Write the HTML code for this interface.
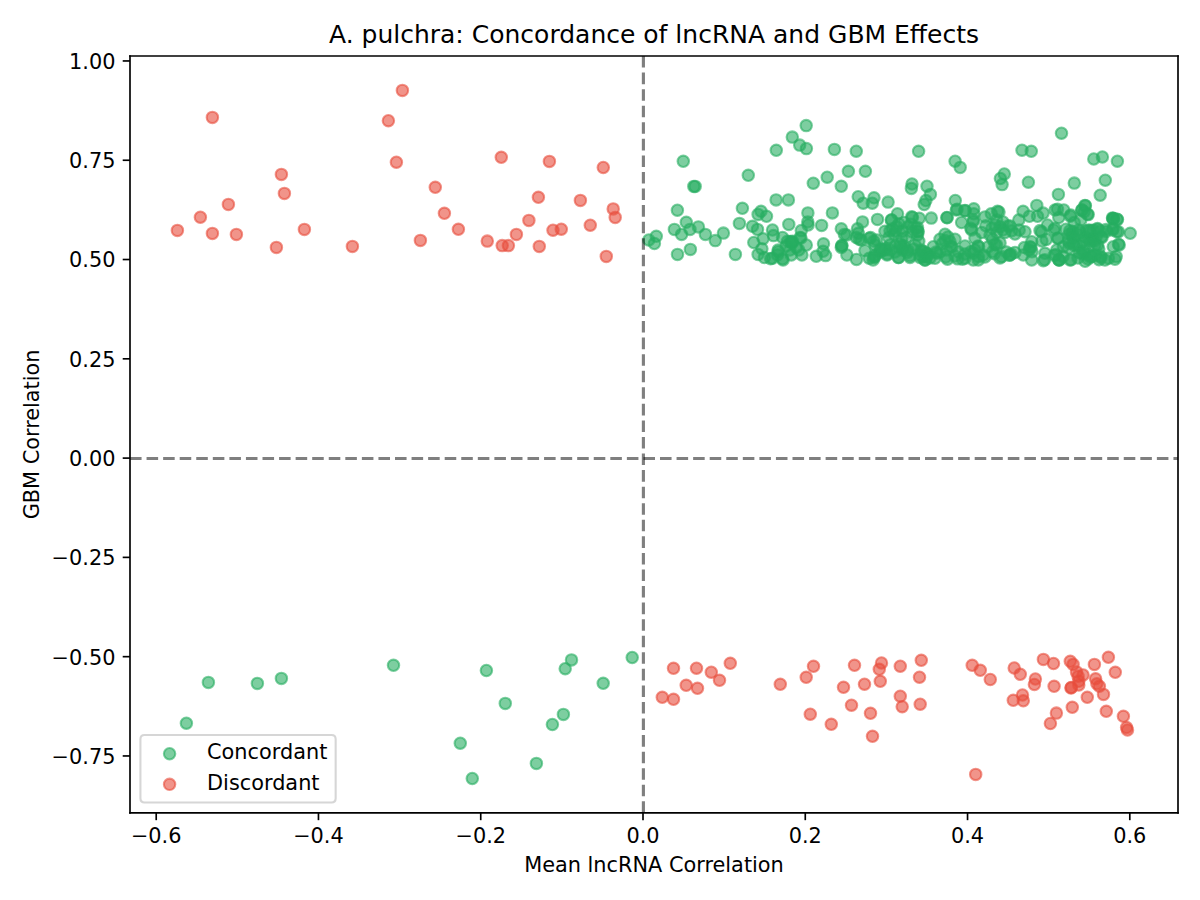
<!DOCTYPE html>
<html><head><meta charset="utf-8"><title>A. pulchra: Concordance of lncRNA and GBM Effects</title>
<style>html,body{margin:0;padding:0;background:#fff;width:1200px;height:900px;overflow:hidden}svg{display:block}</style>
</head><body>
<svg width="1200" height="900" viewBox="0 0 576 432" version="1.1">
 <defs>
  <style type="text/css">*{stroke-linejoin: round; stroke-linecap: butt}</style>
 </defs>
 <g id="figure_1">
  <g id="patch_1">
   <path d="M 0 432 
L 576 432 
L 576 0 
L 0 0 
z
" style="fill: #ffffff"/>
  </g>
  <g id="axes_1">
   <g id="patch_2">
    <path d="M 62.4 390.19 
L 565.44 390.19 
L 565.44 26.88 
L 62.4 26.88 
z
" style="fill: #ffffff"/>
   </g>
   <g id="PathCollection_1">
    <g clip-path="url(#p90a173c5ce)">
     <circle cx="327.98" cy="77.42" r="2.7386" style="fill: #27ae60; fill-opacity: 0.6; stroke: #27ae60; stroke-opacity: 0.6"/>
     <circle cx="333.02" cy="89.47" r="2.7386" style="fill: #27ae60; fill-opacity: 0.6; stroke: #27ae60; stroke-opacity: 0.6"/>
     <circle cx="333.70" cy="89.47" r="2.7386" style="fill: #27ae60; fill-opacity: 0.6; stroke: #27ae60; stroke-opacity: 0.6"/>
     <circle cx="359.18" cy="84.14" r="2.7386" style="fill: #27ae60; fill-opacity: 0.6; stroke: #27ae60; stroke-opacity: 0.6"/>
     <circle cx="325.15" cy="100.90" r="2.7386" style="fill: #27ae60; fill-opacity: 0.6; stroke: #27ae60; stroke-opacity: 0.6"/>
     <circle cx="356.35" cy="99.98" r="2.7386" style="fill: #27ae60; fill-opacity: 0.6; stroke: #27ae60; stroke-opacity: 0.6"/>
     <circle cx="386.98" cy="60.29" r="2.7386" style="fill: #27ae60; fill-opacity: 0.6; stroke: #27ae60; stroke-opacity: 0.6"/>
     <circle cx="380.30" cy="65.81" r="2.7386" style="fill: #27ae60; fill-opacity: 0.6; stroke: #27ae60; stroke-opacity: 0.6"/>
     <circle cx="383.86" cy="69.65" r="2.7386" style="fill: #27ae60; fill-opacity: 0.6; stroke: #27ae60; stroke-opacity: 0.6"/>
     <circle cx="387.07" cy="71.33" r="2.7386" style="fill: #27ae60; fill-opacity: 0.6; stroke: #27ae60; stroke-opacity: 0.6"/>
     <circle cx="372.62" cy="72.14" r="2.7386" style="fill: #27ae60; fill-opacity: 0.6; stroke: #27ae60; stroke-opacity: 0.6"/>
     <circle cx="400.51" cy="71.71" r="2.7386" style="fill: #27ae60; fill-opacity: 0.6; stroke: #27ae60; stroke-opacity: 0.6"/>
     <circle cx="411.02" cy="72.58" r="2.7386" style="fill: #27ae60; fill-opacity: 0.6; stroke: #27ae60; stroke-opacity: 0.6"/>
     <circle cx="390.38" cy="87.94" r="2.7386" style="fill: #27ae60; fill-opacity: 0.6; stroke: #27ae60; stroke-opacity: 0.6"/>
     <circle cx="397.06" cy="85.06" r="2.7386" style="fill: #27ae60; fill-opacity: 0.6; stroke: #27ae60; stroke-opacity: 0.6"/>
     <circle cx="407.23" cy="82.22" r="2.7386" style="fill: #27ae60; fill-opacity: 0.6; stroke: #27ae60; stroke-opacity: 0.6"/>
     <circle cx="415.39" cy="82.22" r="2.7386" style="fill: #27ae60; fill-opacity: 0.6; stroke: #27ae60; stroke-opacity: 0.6"/>
     <circle cx="403.82" cy="89.42" r="2.7386" style="fill: #27ae60; fill-opacity: 0.6; stroke: #27ae60; stroke-opacity: 0.6"/>
     <circle cx="372.53" cy="95.95" r="2.7386" style="fill: #27ae60; fill-opacity: 0.6; stroke: #27ae60; stroke-opacity: 0.6"/>
     <circle cx="378.43" cy="95.95" r="2.7386" style="fill: #27ae60; fill-opacity: 0.6; stroke: #27ae60; stroke-opacity: 0.6"/>
     <circle cx="411.94" cy="94.42" r="2.7386" style="fill: #27ae60; fill-opacity: 0.6; stroke: #27ae60; stroke-opacity: 0.6"/>
     <circle cx="419.52" cy="94.94" r="2.7386" style="fill: #27ae60; fill-opacity: 0.6; stroke: #27ae60; stroke-opacity: 0.6"/>
     <circle cx="414.34" cy="97.54" r="2.7386" style="fill: #27ae60; fill-opacity: 0.6; stroke: #27ae60; stroke-opacity: 0.6"/>
     <circle cx="418.70" cy="97.54" r="2.7386" style="fill: #27ae60; fill-opacity: 0.6; stroke: #27ae60; stroke-opacity: 0.6"/>
     <circle cx="426.29" cy="97.01" r="2.7386" style="fill: #27ae60; fill-opacity: 0.6; stroke: #27ae60; stroke-opacity: 0.6"/>
     <circle cx="387.79" cy="102.19" r="2.7386" style="fill: #27ae60; fill-opacity: 0.6; stroke: #27ae60; stroke-opacity: 0.6"/>
     <circle cx="399.55" cy="102.19" r="2.7386" style="fill: #27ae60; fill-opacity: 0.6; stroke: #27ae60; stroke-opacity: 0.6"/>
     <circle cx="509.52" cy="63.94" r="2.7386" style="fill: #27ae60; fill-opacity: 0.6; stroke: #27ae60; stroke-opacity: 0.6"/>
     <circle cx="440.93" cy="72.62" r="2.7386" style="fill: #27ae60; fill-opacity: 0.6; stroke: #27ae60; stroke-opacity: 0.6"/>
     <circle cx="490.56" cy="72.10" r="2.7386" style="fill: #27ae60; fill-opacity: 0.6; stroke: #27ae60; stroke-opacity: 0.6"/>
     <circle cx="495.02" cy="72.62" r="2.7386" style="fill: #27ae60; fill-opacity: 0.6; stroke: #27ae60; stroke-opacity: 0.6"/>
     <circle cx="458.45" cy="77.38" r="2.7386" style="fill: #27ae60; fill-opacity: 0.6; stroke: #27ae60; stroke-opacity: 0.6"/>
     <circle cx="460.90" cy="80.35" r="2.7386" style="fill: #27ae60; fill-opacity: 0.6; stroke: #27ae60; stroke-opacity: 0.6"/>
     <circle cx="525.02" cy="76.32" r="2.7386" style="fill: #27ae60; fill-opacity: 0.6; stroke: #27ae60; stroke-opacity: 0.6"/>
     <circle cx="529.15" cy="75.36" r="2.7386" style="fill: #27ae60; fill-opacity: 0.6; stroke: #27ae60; stroke-opacity: 0.6"/>
     <circle cx="536.35" cy="77.38" r="2.7386" style="fill: #27ae60; fill-opacity: 0.6; stroke: #27ae60; stroke-opacity: 0.6"/>
     <circle cx="482.06" cy="83.52" r="2.7386" style="fill: #27ae60; fill-opacity: 0.6; stroke: #27ae60; stroke-opacity: 0.6"/>
     <circle cx="480.19" cy="85.68" r="2.7386" style="fill: #27ae60; fill-opacity: 0.6; stroke: #27ae60; stroke-opacity: 0.6"/>
     <circle cx="481.01" cy="88.61" r="2.7386" style="fill: #27ae60; fill-opacity: 0.6; stroke: #27ae60; stroke-opacity: 0.6"/>
     <circle cx="493.63" cy="87.46" r="2.7386" style="fill: #27ae60; fill-opacity: 0.6; stroke: #27ae60; stroke-opacity: 0.6"/>
     <circle cx="515.66" cy="87.89" r="2.7386" style="fill: #27ae60; fill-opacity: 0.6; stroke: #27ae60; stroke-opacity: 0.6"/>
     <circle cx="530.54" cy="86.50" r="2.7386" style="fill: #27ae60; fill-opacity: 0.6; stroke: #27ae60; stroke-opacity: 0.6"/>
     <circle cx="437.76" cy="88.32" r="2.7386" style="fill: #27ae60; fill-opacity: 0.6; stroke: #27ae60; stroke-opacity: 0.6"/>
     <circle cx="437.47" cy="90.43" r="2.7386" style="fill: #27ae60; fill-opacity: 0.6; stroke: #27ae60; stroke-opacity: 0.6"/>
     <circle cx="444.96" cy="89.38" r="2.7386" style="fill: #27ae60; fill-opacity: 0.6; stroke: #27ae60; stroke-opacity: 0.6"/>
     <circle cx="446.59" cy="93.31" r="2.7386" style="fill: #27ae60; fill-opacity: 0.6; stroke: #27ae60; stroke-opacity: 0.6"/>
     <circle cx="444.43" cy="96.24" r="2.7386" style="fill: #27ae60; fill-opacity: 0.6; stroke: #27ae60; stroke-opacity: 0.6"/>
     <circle cx="443.62" cy="98.16" r="2.7386" style="fill: #27ae60; fill-opacity: 0.6; stroke: #27ae60; stroke-opacity: 0.6"/>
     <circle cx="508.03" cy="93.31" r="2.7386" style="fill: #27ae60; fill-opacity: 0.6; stroke: #27ae60; stroke-opacity: 0.6"/>
     <circle cx="528.10" cy="93.70" r="2.7386" style="fill: #27ae60; fill-opacity: 0.6; stroke: #27ae60; stroke-opacity: 0.6"/>
     <circle cx="458.54" cy="96.24" r="2.7386" style="fill: #27ae60; fill-opacity: 0.6; stroke: #27ae60; stroke-opacity: 0.6"/>
     <circle cx="497.66" cy="98.59" r="2.7386" style="fill: #27ae60; fill-opacity: 0.6; stroke: #27ae60; stroke-opacity: 0.6"/>
     <circle cx="520.80" cy="98.59" r="2.7386" style="fill: #27ae60; fill-opacity: 0.6; stroke: #27ae60; stroke-opacity: 0.6"/>
     <circle cx="311.42" cy="115.20" r="2.7386" style="fill: #27ae60; fill-opacity: 0.6; stroke: #27ae60; stroke-opacity: 0.6"/>
     <circle cx="315.02" cy="113.42" r="2.7386" style="fill: #27ae60; fill-opacity: 0.6; stroke: #27ae60; stroke-opacity: 0.6"/>
     <circle cx="314.11" cy="116.88" r="2.7386" style="fill: #27ae60; fill-opacity: 0.6; stroke: #27ae60; stroke-opacity: 0.6"/>
     <circle cx="323.71" cy="110.11" r="2.7386" style="fill: #27ae60; fill-opacity: 0.6; stroke: #27ae60; stroke-opacity: 0.6"/>
     <circle cx="327.17" cy="112.51" r="2.7386" style="fill: #27ae60; fill-opacity: 0.6; stroke: #27ae60; stroke-opacity: 0.6"/>
     <circle cx="329.42" cy="106.70" r="2.7386" style="fill: #27ae60; fill-opacity: 0.6; stroke: #27ae60; stroke-opacity: 0.6"/>
     <circle cx="331.20" cy="110.11" r="2.7386" style="fill: #27ae60; fill-opacity: 0.6; stroke: #27ae60; stroke-opacity: 0.6"/>
     <circle cx="335.23" cy="108.91" r="2.7386" style="fill: #27ae60; fill-opacity: 0.6; stroke: #27ae60; stroke-opacity: 0.6"/>
     <circle cx="338.59" cy="112.51" r="2.7386" style="fill: #27ae60; fill-opacity: 0.6; stroke: #27ae60; stroke-opacity: 0.6"/>
     <circle cx="343.34" cy="115.49" r="2.7386" style="fill: #27ae60; fill-opacity: 0.6; stroke: #27ae60; stroke-opacity: 0.6"/>
     <circle cx="347.23" cy="111.89" r="2.7386" style="fill: #27ae60; fill-opacity: 0.6; stroke: #27ae60; stroke-opacity: 0.6"/>
     <circle cx="325.20" cy="122.11" r="2.7386" style="fill: #27ae60; fill-opacity: 0.6; stroke: #27ae60; stroke-opacity: 0.6"/>
     <circle cx="331.39" cy="119.71" r="2.7386" style="fill: #27ae60; fill-opacity: 0.6; stroke: #27ae60; stroke-opacity: 0.6"/>
     <circle cx="354.91" cy="107.23" r="2.7386" style="fill: #27ae60; fill-opacity: 0.6; stroke: #27ae60; stroke-opacity: 0.6"/>
     <circle cx="352.99" cy="122.11" r="2.7386" style="fill: #27ae60; fill-opacity: 0.6; stroke: #27ae60; stroke-opacity: 0.6"/>
     <circle cx="365.28" cy="101.42" r="2.7386" style="fill: #27ae60; fill-opacity: 0.6; stroke: #27ae60; stroke-opacity: 0.6"/>
     <circle cx="363.89" cy="102.91" r="2.7386" style="fill: #27ae60; fill-opacity: 0.6; stroke: #27ae60; stroke-opacity: 0.6"/>
     <circle cx="367.92" cy="103.82" r="2.7386" style="fill: #27ae60; fill-opacity: 0.6; stroke: #27ae60; stroke-opacity: 0.6"/>
     <circle cx="361.20" cy="108.62" r="2.7386" style="fill: #27ae60; fill-opacity: 0.6; stroke: #27ae60; stroke-opacity: 0.6"/>
     <circle cx="363.60" cy="110.11" r="2.7386" style="fill: #27ae60; fill-opacity: 0.6; stroke: #27ae60; stroke-opacity: 0.6"/>
     <circle cx="370.80" cy="110.40" r="2.7386" style="fill: #27ae60; fill-opacity: 0.6; stroke: #27ae60; stroke-opacity: 0.6"/>
     <circle cx="371.28" cy="113.09" r="2.7386" style="fill: #27ae60; fill-opacity: 0.6; stroke: #27ae60; stroke-opacity: 0.6"/>
     <circle cx="378.62" cy="107.71" r="2.7386" style="fill: #27ae60; fill-opacity: 0.6; stroke: #27ae60; stroke-opacity: 0.6"/>
     <circle cx="361.82" cy="116.40" r="2.7386" style="fill: #27ae60; fill-opacity: 0.6; stroke: #27ae60; stroke-opacity: 0.6"/>
     <circle cx="366.29" cy="114.62" r="2.7386" style="fill: #27ae60; fill-opacity: 0.6; stroke: #27ae60; stroke-opacity: 0.6"/>
     <circle cx="365.71" cy="119.42" r="2.7386" style="fill: #27ae60; fill-opacity: 0.6; stroke: #27ae60; stroke-opacity: 0.6"/>
     <circle cx="375.60" cy="114.00" r="2.7386" style="fill: #27ae60; fill-opacity: 0.6; stroke: #27ae60; stroke-opacity: 0.6"/>
     <circle cx="378.00" cy="115.82" r="2.7386" style="fill: #27ae60; fill-opacity: 0.6; stroke: #27ae60; stroke-opacity: 0.6"/>
     <circle cx="363.89" cy="122.11" r="2.7386" style="fill: #27ae60; fill-opacity: 0.6; stroke: #27ae60; stroke-opacity: 0.6"/>
     <circle cx="366.91" cy="123.60" r="2.7386" style="fill: #27ae60; fill-opacity: 0.6; stroke: #27ae60; stroke-opacity: 0.6"/>
     <circle cx="369.89" cy="124.22" r="2.7386" style="fill: #27ae60; fill-opacity: 0.6; stroke: #27ae60; stroke-opacity: 0.6"/>
     <circle cx="373.49" cy="120.00" r="2.7386" style="fill: #27ae60; fill-opacity: 0.6; stroke: #27ae60; stroke-opacity: 0.6"/>
     <circle cx="373.20" cy="122.40" r="2.7386" style="fill: #27ae60; fill-opacity: 0.6; stroke: #27ae60; stroke-opacity: 0.6"/>
     <circle cx="375.60" cy="124.22" r="2.7386" style="fill: #27ae60; fill-opacity: 0.6; stroke: #27ae60; stroke-opacity: 0.6"/>
     <circle cx="387.74" cy="106.51" r="2.7386" style="fill: #27ae60; fill-opacity: 0.6; stroke: #27ae60; stroke-opacity: 0.6"/>
     <circle cx="387.89" cy="108.00" r="2.7386" style="fill: #27ae60; fill-opacity: 0.6; stroke: #27ae60; stroke-opacity: 0.6"/>
     <circle cx="394.37" cy="108.19" r="2.7386" style="fill: #27ae60; fill-opacity: 0.6; stroke: #27ae60; stroke-opacity: 0.6"/>
     <circle cx="384.62" cy="110.69" r="2.7386" style="fill: #27ae60; fill-opacity: 0.6; stroke: #27ae60; stroke-opacity: 0.6"/>
     <circle cx="380.40" cy="115.82" r="2.7386" style="fill: #27ae60; fill-opacity: 0.6; stroke: #27ae60; stroke-opacity: 0.6"/>
     <circle cx="384.00" cy="114.00" r="2.7386" style="fill: #27ae60; fill-opacity: 0.6; stroke: #27ae60; stroke-opacity: 0.6"/>
     <circle cx="382.22" cy="118.80" r="2.7386" style="fill: #27ae60; fill-opacity: 0.6; stroke: #27ae60; stroke-opacity: 0.6"/>
     <circle cx="379.20" cy="120.00" r="2.7386" style="fill: #27ae60; fill-opacity: 0.6; stroke: #27ae60; stroke-opacity: 0.6"/>
     <circle cx="387.02" cy="117.60" r="2.7386" style="fill: #27ae60; fill-opacity: 0.6; stroke: #27ae60; stroke-opacity: 0.6"/>
     <circle cx="375.89" cy="124.80" r="2.7386" style="fill: #27ae60; fill-opacity: 0.6; stroke: #27ae60; stroke-opacity: 0.6"/>
     <circle cx="379.82" cy="122.40" r="2.7386" style="fill: #27ae60; fill-opacity: 0.6; stroke: #27ae60; stroke-opacity: 0.6"/>
     <circle cx="384.91" cy="122.40" r="2.7386" style="fill: #27ae60; fill-opacity: 0.6; stroke: #27ae60; stroke-opacity: 0.6"/>
     <circle cx="383.42" cy="120.00" r="2.7386" style="fill: #27ae60; fill-opacity: 0.6; stroke: #27ae60; stroke-opacity: 0.6"/>
     <circle cx="391.82" cy="123.02" r="2.7386" style="fill: #27ae60; fill-opacity: 0.6; stroke: #27ae60; stroke-opacity: 0.6"/>
     <circle cx="395.28" cy="117.02" r="2.7386" style="fill: #27ae60; fill-opacity: 0.6; stroke: #27ae60; stroke-opacity: 0.6"/>
     <circle cx="395.09" cy="120.62" r="2.7386" style="fill: #27ae60; fill-opacity: 0.6; stroke: #27ae60; stroke-opacity: 0.6"/>
     <circle cx="396.29" cy="122.69" r="2.7386" style="fill: #27ae60; fill-opacity: 0.6; stroke: #27ae60; stroke-opacity: 0.6"/>
     <circle cx="403.82" cy="109.82" r="2.7386" style="fill: #27ae60; fill-opacity: 0.6; stroke: #27ae60; stroke-opacity: 0.6"/>
     <circle cx="405.31" cy="112.51" r="2.7386" style="fill: #27ae60; fill-opacity: 0.6; stroke: #27ae60; stroke-opacity: 0.6"/>
     <circle cx="404.11" cy="117.89" r="2.7386" style="fill: #27ae60; fill-opacity: 0.6; stroke: #27ae60; stroke-opacity: 0.6"/>
     <circle cx="403.82" cy="118.80" r="2.7386" style="fill: #27ae60; fill-opacity: 0.6; stroke: #27ae60; stroke-opacity: 0.6"/>
     <circle cx="406.51" cy="122.40" r="2.7386" style="fill: #27ae60; fill-opacity: 0.6; stroke: #27ae60; stroke-opacity: 0.6"/>
     <circle cx="411.12" cy="124.51" r="2.7386" style="fill: #27ae60; fill-opacity: 0.6; stroke: #27ae60; stroke-opacity: 0.6"/>
     <circle cx="414.00" cy="106.51" r="2.7386" style="fill: #27ae60; fill-opacity: 0.6; stroke: #27ae60; stroke-opacity: 0.6"/>
     <circle cx="411.60" cy="109.82" r="2.7386" style="fill: #27ae60; fill-opacity: 0.6; stroke: #27ae60; stroke-opacity: 0.6"/>
     <circle cx="411.02" cy="114.00" r="2.7386" style="fill: #27ae60; fill-opacity: 0.6; stroke: #27ae60; stroke-opacity: 0.6"/>
     <circle cx="413.42" cy="115.20" r="2.7386" style="fill: #27ae60; fill-opacity: 0.6; stroke: #27ae60; stroke-opacity: 0.6"/>
     <circle cx="421.20" cy="105.31" r="2.7386" style="fill: #27ae60; fill-opacity: 0.6; stroke: #27ae60; stroke-opacity: 0.6"/>
     <circle cx="417.89" cy="114.00" r="2.7386" style="fill: #27ae60; fill-opacity: 0.6; stroke: #27ae60; stroke-opacity: 0.6"/>
     <circle cx="419.42" cy="115.82" r="2.7386" style="fill: #27ae60; fill-opacity: 0.6; stroke: #27ae60; stroke-opacity: 0.6"/>
     <circle cx="420.00" cy="117.60" r="2.7386" style="fill: #27ae60; fill-opacity: 0.6; stroke: #27ae60; stroke-opacity: 0.6"/>
     <circle cx="415.20" cy="120.29" r="2.7386" style="fill: #27ae60; fill-opacity: 0.6; stroke: #27ae60; stroke-opacity: 0.6"/>
     <circle cx="419.42" cy="123.60" r="2.7386" style="fill: #27ae60; fill-opacity: 0.6; stroke: #27ae60; stroke-opacity: 0.6"/>
     <circle cx="420.00" cy="122.40" r="2.7386" style="fill: #27ae60; fill-opacity: 0.6; stroke: #27ae60; stroke-opacity: 0.6"/>
     <circle cx="419.09" cy="124.80" r="2.7386" style="fill: #27ae60; fill-opacity: 0.6; stroke: #27ae60; stroke-opacity: 0.6"/>
     <circle cx="424.80" cy="111.02" r="2.7386" style="fill: #27ae60; fill-opacity: 0.6; stroke: #27ae60; stroke-opacity: 0.6"/>
     <circle cx="424.80" cy="120.00" r="2.7386" style="fill: #27ae60; fill-opacity: 0.6; stroke: #27ae60; stroke-opacity: 0.6"/>
     <circle cx="426.62" cy="114.00" r="2.7386" style="fill: #27ae60; fill-opacity: 0.6; stroke: #27ae60; stroke-opacity: 0.6"/>
     <circle cx="428.40" cy="109.82" r="2.7386" style="fill: #27ae60; fill-opacity: 0.6; stroke: #27ae60; stroke-opacity: 0.6"/>
     <circle cx="427.82" cy="105.60" r="2.7386" style="fill: #27ae60; fill-opacity: 0.6; stroke: #27ae60; stroke-opacity: 0.6"/>
     <circle cx="430.80" cy="102.62" r="2.7386" style="fill: #27ae60; fill-opacity: 0.6; stroke: #27ae60; stroke-opacity: 0.6"/>
     <circle cx="431.42" cy="107.42" r="2.7386" style="fill: #27ae60; fill-opacity: 0.6; stroke: #27ae60; stroke-opacity: 0.6"/>
     <circle cx="433.20" cy="111.02" r="2.7386" style="fill: #27ae60; fill-opacity: 0.6; stroke: #27ae60; stroke-opacity: 0.6"/>
     <circle cx="435.02" cy="114.00" r="2.7386" style="fill: #27ae60; fill-opacity: 0.6; stroke: #27ae60; stroke-opacity: 0.6"/>
     <circle cx="431.42" cy="123.60" r="2.7386" style="fill: #27ae60; fill-opacity: 0.6; stroke: #27ae60; stroke-opacity: 0.6"/>
     <circle cx="433.20" cy="120.00" r="2.7386" style="fill: #27ae60; fill-opacity: 0.6; stroke: #27ae60; stroke-opacity: 0.6"/>
     <circle cx="435.60" cy="121.20" r="2.7386" style="fill: #27ae60; fill-opacity: 0.6; stroke: #27ae60; stroke-opacity: 0.6"/>
     <circle cx="436.80" cy="123.60" r="2.7386" style="fill: #27ae60; fill-opacity: 0.6; stroke: #27ae60; stroke-opacity: 0.6"/>
     <circle cx="438.00" cy="104.40" r="2.7386" style="fill: #27ae60; fill-opacity: 0.6; stroke: #27ae60; stroke-opacity: 0.6"/>
     <circle cx="440.40" cy="109.20" r="2.7386" style="fill: #27ae60; fill-opacity: 0.6; stroke: #27ae60; stroke-opacity: 0.6"/>
     <circle cx="440.40" cy="111.02" r="2.7386" style="fill: #27ae60; fill-opacity: 0.6; stroke: #27ae60; stroke-opacity: 0.6"/>
     <circle cx="440.40" cy="112.80" r="2.7386" style="fill: #27ae60; fill-opacity: 0.6; stroke: #27ae60; stroke-opacity: 0.6"/>
     <circle cx="441.02" cy="115.82" r="2.7386" style="fill: #27ae60; fill-opacity: 0.6; stroke: #27ae60; stroke-opacity: 0.6"/>
     <circle cx="442.22" cy="120.00" r="2.7386" style="fill: #27ae60; fill-opacity: 0.6; stroke: #27ae60; stroke-opacity: 0.6"/>
     <circle cx="444.00" cy="124.80" r="2.7386" style="fill: #27ae60; fill-opacity: 0.6; stroke: #27ae60; stroke-opacity: 0.6"/>
     <circle cx="441.60" cy="123.60" r="2.7386" style="fill: #27ae60; fill-opacity: 0.6; stroke: #27ae60; stroke-opacity: 0.6"/>
     <circle cx="459.02" cy="100.80" r="2.7386" style="fill: #27ae60; fill-opacity: 0.6; stroke: #27ae60; stroke-opacity: 0.6"/>
     <circle cx="463.20" cy="101.09" r="2.7386" style="fill: #27ae60; fill-opacity: 0.6; stroke: #27ae60; stroke-opacity: 0.6"/>
     <circle cx="467.42" cy="100.22" r="2.7386" style="fill: #27ae60; fill-opacity: 0.6; stroke: #27ae60; stroke-opacity: 0.6"/>
     <circle cx="467.42" cy="102.62" r="2.7386" style="fill: #27ae60; fill-opacity: 0.6; stroke: #27ae60; stroke-opacity: 0.6"/>
     <circle cx="447.02" cy="104.69" r="2.7386" style="fill: #27ae60; fill-opacity: 0.6; stroke: #27ae60; stroke-opacity: 0.6"/>
     <circle cx="454.51" cy="104.40" r="2.7386" style="fill: #27ae60; fill-opacity: 0.6; stroke: #27ae60; stroke-opacity: 0.6"/>
     <circle cx="454.61" cy="104.50" r="2.7386" style="fill: #27ae60; fill-opacity: 0.6; stroke: #27ae60; stroke-opacity: 0.6"/>
     <circle cx="461.57" cy="106.80" r="2.7386" style="fill: #27ae60; fill-opacity: 0.6; stroke: #27ae60; stroke-opacity: 0.6"/>
     <circle cx="500.69" cy="102.29" r="2.7386" style="fill: #27ae60; fill-opacity: 0.6; stroke: #27ae60; stroke-opacity: 0.6"/>
     <circle cx="498.00" cy="103.82" r="2.7386" style="fill: #27ae60; fill-opacity: 0.6; stroke: #27ae60; stroke-opacity: 0.6"/>
     <circle cx="491.09" cy="101.42" r="2.7386" style="fill: #27ae60; fill-opacity: 0.6; stroke: #27ae60; stroke-opacity: 0.6"/>
     <circle cx="494.11" cy="103.82" r="2.7386" style="fill: #27ae60; fill-opacity: 0.6; stroke: #27ae60; stroke-opacity: 0.6"/>
     <circle cx="489.02" cy="105.60" r="2.7386" style="fill: #27ae60; fill-opacity: 0.6; stroke: #27ae60; stroke-opacity: 0.6"/>
     <circle cx="506.40" cy="100.80" r="2.7386" style="fill: #27ae60; fill-opacity: 0.6; stroke: #27ae60; stroke-opacity: 0.6"/>
     <circle cx="510.62" cy="100.80" r="2.7386" style="fill: #27ae60; fill-opacity: 0.6; stroke: #27ae60; stroke-opacity: 0.6"/>
     <circle cx="508.22" cy="104.40" r="2.7386" style="fill: #27ae60; fill-opacity: 0.6; stroke: #27ae60; stroke-opacity: 0.6"/>
     <circle cx="478.80" cy="101.42" r="2.7386" style="fill: #27ae60; fill-opacity: 0.6; stroke: #27ae60; stroke-opacity: 0.6"/>
     <circle cx="475.82" cy="102.62" r="2.7386" style="fill: #27ae60; fill-opacity: 0.6; stroke: #27ae60; stroke-opacity: 0.6"/>
     <circle cx="472.80" cy="104.11" r="2.7386" style="fill: #27ae60; fill-opacity: 0.6; stroke: #27ae60; stroke-opacity: 0.6"/>
     <circle cx="502.80" cy="108.00" r="2.7386" style="fill: #27ae60; fill-opacity: 0.6; stroke: #27ae60; stroke-opacity: 0.6"/>
     <circle cx="499.20" cy="110.69" r="2.7386" style="fill: #27ae60; fill-opacity: 0.6; stroke: #27ae60; stroke-opacity: 0.6"/>
     <circle cx="505.82" cy="110.40" r="2.7386" style="fill: #27ae60; fill-opacity: 0.6; stroke: #27ae60; stroke-opacity: 0.6"/>
     <circle cx="513.74" cy="103.78" r="2.7386" style="fill: #27ae60; fill-opacity: 0.6; stroke: #27ae60; stroke-opacity: 0.6"/>
     <circle cx="519.36" cy="100.80" r="2.7386" style="fill: #27ae60; fill-opacity: 0.6; stroke: #27ae60; stroke-opacity: 0.6"/>
     <circle cx="522.34" cy="103.01" r="2.7386" style="fill: #27ae60; fill-opacity: 0.6; stroke: #27ae60; stroke-opacity: 0.6"/>
     <circle cx="534.29" cy="104.88" r="2.7386" style="fill: #27ae60; fill-opacity: 0.6; stroke: #27ae60; stroke-opacity: 0.6"/>
     <circle cx="534.48" cy="105.12" r="2.7386" style="fill: #27ae60; fill-opacity: 0.6; stroke: #27ae60; stroke-opacity: 0.6"/>
     <circle cx="536.16" cy="105.26" r="2.7386" style="fill: #27ae60; fill-opacity: 0.6; stroke: #27ae60; stroke-opacity: 0.6"/>
     <circle cx="542.50" cy="111.98" r="2.7386" style="fill: #27ae60; fill-opacity: 0.6; stroke: #27ae60; stroke-opacity: 0.6"/>
     <circle cx="536.88" cy="111.26" r="2.7386" style="fill: #27ae60; fill-opacity: 0.6; stroke: #27ae60; stroke-opacity: 0.6"/>
     <circle cx="534.29" cy="109.73" r="2.7386" style="fill: #27ae60; fill-opacity: 0.6; stroke: #27ae60; stroke-opacity: 0.6"/>
     <circle cx="536.88" cy="117.22" r="2.7386" style="fill: #27ae60; fill-opacity: 0.6; stroke: #27ae60; stroke-opacity: 0.6"/>
     <circle cx="535.78" cy="123.17" r="2.7386" style="fill: #27ae60; fill-opacity: 0.6; stroke: #27ae60; stroke-opacity: 0.6"/>
     <circle cx="532.03" cy="123.94" r="2.7386" style="fill: #27ae60; fill-opacity: 0.6; stroke: #27ae60; stroke-opacity: 0.6"/>
     <circle cx="526.80" cy="109.73" r="2.7386" style="fill: #27ae60; fill-opacity: 0.6; stroke: #27ae60; stroke-opacity: 0.6"/>
     <circle cx="502.18" cy="114.96" r="2.7386" style="fill: #27ae60; fill-opacity: 0.6; stroke: #27ae60; stroke-opacity: 0.6"/>
     <circle cx="499.97" cy="111.26" r="2.7386" style="fill: #27ae60; fill-opacity: 0.6; stroke: #27ae60; stroke-opacity: 0.6"/>
     <circle cx="501.46" cy="124.70" r="2.7386" style="fill: #27ae60; fill-opacity: 0.6; stroke: #27ae60; stroke-opacity: 0.6"/>
     <circle cx="508.18" cy="124.70" r="2.7386" style="fill: #27ae60; fill-opacity: 0.6; stroke: #27ae60; stroke-opacity: 0.6"/>
     <circle cx="514.13" cy="124.70" r="2.7386" style="fill: #27ae60; fill-opacity: 0.6; stroke: #27ae60; stroke-opacity: 0.6"/>
     <circle cx="520.85" cy="125.42" r="2.7386" style="fill: #27ae60; fill-opacity: 0.6; stroke: #27ae60; stroke-opacity: 0.6"/>
     <circle cx="527.57" cy="124.70" r="2.7386" style="fill: #27ae60; fill-opacity: 0.6; stroke: #27ae60; stroke-opacity: 0.6"/>
     <circle cx="100.03" cy="327.55" r="2.7386" style="fill: #27ae60; fill-opacity: 0.6; stroke: #27ae60; stroke-opacity: 0.6"/>
     <circle cx="123.55" cy="328.03" r="2.7386" style="fill: #27ae60; fill-opacity: 0.6; stroke: #27ae60; stroke-opacity: 0.6"/>
     <circle cx="135.07" cy="325.63" r="2.7386" style="fill: #27ae60; fill-opacity: 0.6; stroke: #27ae60; stroke-opacity: 0.6"/>
     <circle cx="89.47" cy="347.14" r="2.7386" style="fill: #27ae60; fill-opacity: 0.6; stroke: #27ae60; stroke-opacity: 0.6"/>
     <circle cx="188.88" cy="319.34" r="2.7386" style="fill: #27ae60; fill-opacity: 0.6; stroke: #27ae60; stroke-opacity: 0.6"/>
     <circle cx="233.47" cy="321.84" r="2.7386" style="fill: #27ae60; fill-opacity: 0.6; stroke: #27ae60; stroke-opacity: 0.6"/>
     <circle cx="274.32" cy="316.75" r="2.7386" style="fill: #27ae60; fill-opacity: 0.6; stroke: #27ae60; stroke-opacity: 0.6"/>
     <circle cx="271.30" cy="320.98" r="2.7386" style="fill: #27ae60; fill-opacity: 0.6; stroke: #27ae60; stroke-opacity: 0.6"/>
     <circle cx="303.46" cy="315.60" r="2.7386" style="fill: #27ae60; fill-opacity: 0.6; stroke: #27ae60; stroke-opacity: 0.6"/>
     <circle cx="289.54" cy="327.98" r="2.7386" style="fill: #27ae60; fill-opacity: 0.6; stroke: #27ae60; stroke-opacity: 0.6"/>
     <circle cx="242.54" cy="337.63" r="2.7386" style="fill: #27ae60; fill-opacity: 0.6; stroke: #27ae60; stroke-opacity: 0.6"/>
     <circle cx="270.43" cy="342.91" r="2.7386" style="fill: #27ae60; fill-opacity: 0.6; stroke: #27ae60; stroke-opacity: 0.6"/>
     <circle cx="265.15" cy="347.76" r="2.7386" style="fill: #27ae60; fill-opacity: 0.6; stroke: #27ae60; stroke-opacity: 0.6"/>
     <circle cx="220.94" cy="356.74" r="2.7386" style="fill: #27ae60; fill-opacity: 0.6; stroke: #27ae60; stroke-opacity: 0.6"/>
     <circle cx="257.47" cy="366.43" r="2.7386" style="fill: #27ae60; fill-opacity: 0.6; stroke: #27ae60; stroke-opacity: 0.6"/>
     <circle cx="226.70" cy="373.68" r="2.7386" style="fill: #27ae60; fill-opacity: 0.6; stroke: #27ae60; stroke-opacity: 0.6"/>
     <circle cx="479.52" cy="101.76" r="2.7386" style="fill: #27ae60; fill-opacity: 0.6; stroke: #27ae60; stroke-opacity: 0.6"/>
     <circle cx="428.02" cy="105.60" r="2.7386" style="fill: #27ae60; fill-opacity: 0.6; stroke: #27ae60; stroke-opacity: 0.6"/>
     <circle cx="437.62" cy="104.02" r="2.7386" style="fill: #27ae60; fill-opacity: 0.6; stroke: #27ae60; stroke-opacity: 0.6"/>
     <circle cx="441.22" cy="104.78" r="2.7386" style="fill: #27ae60; fill-opacity: 0.6; stroke: #27ae60; stroke-opacity: 0.6"/>
     <circle cx="459.41" cy="100.42" r="2.7386" style="fill: #27ae60; fill-opacity: 0.6; stroke: #27ae60; stroke-opacity: 0.6"/>
     <circle cx="463.20" cy="101.18" r="2.7386" style="fill: #27ae60; fill-opacity: 0.6; stroke: #27ae60; stroke-opacity: 0.6"/>
     <circle cx="427.20" cy="110.78" r="2.7386" style="fill: #27ae60; fill-opacity: 0.6; stroke: #27ae60; stroke-opacity: 0.6"/>
     <circle cx="430.42" cy="108.82" r="2.7386" style="fill: #27ae60; fill-opacity: 0.6; stroke: #27ae60; stroke-opacity: 0.6"/>
     <circle cx="434.02" cy="106.80" r="2.7386" style="fill: #27ae60; fill-opacity: 0.6; stroke: #27ae60; stroke-opacity: 0.6"/>
     <circle cx="439.58" cy="109.58" r="2.7386" style="fill: #27ae60; fill-opacity: 0.6; stroke: #27ae60; stroke-opacity: 0.6"/>
     <circle cx="440.78" cy="111.22" r="2.7386" style="fill: #27ae60; fill-opacity: 0.6; stroke: #27ae60; stroke-opacity: 0.6"/>
     <circle cx="437.18" cy="107.62" r="2.7386" style="fill: #27ae60; fill-opacity: 0.6; stroke: #27ae60; stroke-opacity: 0.6"/>
     <circle cx="429.22" cy="112.42" r="2.7386" style="fill: #27ae60; fill-opacity: 0.6; stroke: #27ae60; stroke-opacity: 0.6"/>
     <circle cx="432.82" cy="114.38" r="2.7386" style="fill: #27ae60; fill-opacity: 0.6; stroke: #27ae60; stroke-opacity: 0.6"/>
     <circle cx="435.84" cy="108.96" r="2.7386" style="fill: #27ae60; fill-opacity: 0.6; stroke: #27ae60; stroke-opacity: 0.6"/>
     <circle cx="437.76" cy="111.36" r="2.7386" style="fill: #27ae60; fill-opacity: 0.6; stroke: #27ae60; stroke-opacity: 0.6"/>
     <circle cx="430.08" cy="110.88" r="2.7386" style="fill: #27ae60; fill-opacity: 0.6; stroke: #27ae60; stroke-opacity: 0.6"/>
     <circle cx="420.82" cy="115.20" r="2.7386" style="fill: #27ae60; fill-opacity: 0.6; stroke: #27ae60; stroke-opacity: 0.6"/>
     <circle cx="420.00" cy="123.22" r="2.7386" style="fill: #27ae60; fill-opacity: 0.6; stroke: #27ae60; stroke-opacity: 0.6"/>
     <circle cx="424.80" cy="119.18" r="2.7386" style="fill: #27ae60; fill-opacity: 0.6; stroke: #27ae60; stroke-opacity: 0.6"/>
     <circle cx="433.20" cy="119.18" r="2.7386" style="fill: #27ae60; fill-opacity: 0.6; stroke: #27ae60; stroke-opacity: 0.6"/>
     <circle cx="433.92" cy="118.08" r="2.7386" style="fill: #27ae60; fill-opacity: 0.6; stroke: #27ae60; stroke-opacity: 0.6"/>
     <circle cx="431.18" cy="123.60" r="2.7386" style="fill: #27ae60; fill-opacity: 0.6; stroke: #27ae60; stroke-opacity: 0.6"/>
     <circle cx="436.80" cy="122.78" r="2.7386" style="fill: #27ae60; fill-opacity: 0.6; stroke: #27ae60; stroke-opacity: 0.6"/>
     <circle cx="442.42" cy="120.82" r="2.7386" style="fill: #27ae60; fill-opacity: 0.6; stroke: #27ae60; stroke-opacity: 0.6"/>
     <circle cx="444.00" cy="124.80" r="2.7386" style="fill: #27ae60; fill-opacity: 0.6; stroke: #27ae60; stroke-opacity: 0.6"/>
     <circle cx="447.98" cy="118.42" r="2.7386" style="fill: #27ae60; fill-opacity: 0.6; stroke: #27ae60; stroke-opacity: 0.6"/>
     <circle cx="448.80" cy="123.98" r="2.7386" style="fill: #27ae60; fill-opacity: 0.6; stroke: #27ae60; stroke-opacity: 0.6"/>
     <circle cx="453.60" cy="112.42" r="2.7386" style="fill: #27ae60; fill-opacity: 0.6; stroke: #27ae60; stroke-opacity: 0.6"/>
     <circle cx="451.20" cy="114.82" r="2.7386" style="fill: #27ae60; fill-opacity: 0.6; stroke: #27ae60; stroke-opacity: 0.6"/>
     <circle cx="456.00" cy="116.02" r="2.7386" style="fill: #27ae60; fill-opacity: 0.6; stroke: #27ae60; stroke-opacity: 0.6"/>
     <circle cx="458.40" cy="114.82" r="2.7386" style="fill: #27ae60; fill-opacity: 0.6; stroke: #27ae60; stroke-opacity: 0.6"/>
     <circle cx="454.42" cy="120.00" r="2.7386" style="fill: #27ae60; fill-opacity: 0.6; stroke: #27ae60; stroke-opacity: 0.6"/>
     <circle cx="454.80" cy="124.42" r="2.7386" style="fill: #27ae60; fill-opacity: 0.6; stroke: #27ae60; stroke-opacity: 0.6"/>
     <circle cx="459.98" cy="120.82" r="2.7386" style="fill: #27ae60; fill-opacity: 0.6; stroke: #27ae60; stroke-opacity: 0.6"/>
     <circle cx="462.00" cy="124.42" r="2.7386" style="fill: #27ae60; fill-opacity: 0.6; stroke: #27ae60; stroke-opacity: 0.6"/>
     <circle cx="465.98" cy="120.82" r="2.7386" style="fill: #27ae60; fill-opacity: 0.6; stroke: #27ae60; stroke-opacity: 0.6"/>
     <circle cx="467.18" cy="124.80" r="2.7386" style="fill: #27ae60; fill-opacity: 0.6; stroke: #27ae60; stroke-opacity: 0.6"/>
     <circle cx="465.98" cy="109.58" r="2.7386" style="fill: #27ae60; fill-opacity: 0.6; stroke: #27ae60; stroke-opacity: 0.6"/>
     <circle cx="467.18" cy="106.42" r="2.7386" style="fill: #27ae60; fill-opacity: 0.6; stroke: #27ae60; stroke-opacity: 0.6"/>
     <circle cx="427.20" cy="117.60" r="2.7386" style="fill: #27ae60; fill-opacity: 0.6; stroke: #27ae60; stroke-opacity: 0.6"/>
     <circle cx="429.60" cy="120.96" r="2.7386" style="fill: #27ae60; fill-opacity: 0.6; stroke: #27ae60; stroke-opacity: 0.6"/>
     <circle cx="422.40" cy="120.96" r="2.7386" style="fill: #27ae60; fill-opacity: 0.6; stroke: #27ae60; stroke-opacity: 0.6"/>
     <circle cx="439.20" cy="117.60" r="2.7386" style="fill: #27ae60; fill-opacity: 0.6; stroke: #27ae60; stroke-opacity: 0.6"/>
     <circle cx="445.44" cy="121.92" r="2.7386" style="fill: #27ae60; fill-opacity: 0.6; stroke: #27ae60; stroke-opacity: 0.6"/>
     <circle cx="451.20" cy="120.96" r="2.7386" style="fill: #27ae60; fill-opacity: 0.6; stroke: #27ae60; stroke-opacity: 0.6"/>
     <circle cx="456.96" cy="118.56" r="2.7386" style="fill: #27ae60; fill-opacity: 0.6; stroke: #27ae60; stroke-opacity: 0.6"/>
     <circle cx="463.20" cy="118.08" r="2.7386" style="fill: #27ae60; fill-opacity: 0.6; stroke: #27ae60; stroke-opacity: 0.6"/>
     <circle cx="478.42" cy="105.60" r="2.7386" style="fill: #27ae60; fill-opacity: 0.6; stroke: #27ae60; stroke-opacity: 0.6"/>
     <circle cx="480.00" cy="108.82" r="2.7386" style="fill: #27ae60; fill-opacity: 0.6; stroke: #27ae60; stroke-opacity: 0.6"/>
     <circle cx="478.42" cy="111.60" r="2.7386" style="fill: #27ae60; fill-opacity: 0.6; stroke: #27ae60; stroke-opacity: 0.6"/>
     <circle cx="482.40" cy="111.60" r="2.7386" style="fill: #27ae60; fill-opacity: 0.6; stroke: #27ae60; stroke-opacity: 0.6"/>
     <circle cx="485.62" cy="110.78" r="2.7386" style="fill: #27ae60; fill-opacity: 0.6; stroke: #27ae60; stroke-opacity: 0.6"/>
     <circle cx="489.22" cy="110.40" r="2.7386" style="fill: #27ae60; fill-opacity: 0.6; stroke: #27ae60; stroke-opacity: 0.6"/>
     <circle cx="492.00" cy="111.22" r="2.7386" style="fill: #27ae60; fill-opacity: 0.6; stroke: #27ae60; stroke-opacity: 0.6"/>
     <circle cx="481.44" cy="106.56" r="2.7386" style="fill: #27ae60; fill-opacity: 0.6; stroke: #27ae60; stroke-opacity: 0.6"/>
     <circle cx="483.84" cy="108.48" r="2.7386" style="fill: #27ae60; fill-opacity: 0.6; stroke: #27ae60; stroke-opacity: 0.6"/>
     <circle cx="487.20" cy="112.32" r="2.7386" style="fill: #27ae60; fill-opacity: 0.6; stroke: #27ae60; stroke-opacity: 0.6"/>
     <circle cx="476.16" cy="109.44" r="2.7386" style="fill: #27ae60; fill-opacity: 0.6; stroke: #27ae60; stroke-opacity: 0.6"/>
     <circle cx="473.18" cy="108.38" r="2.7386" style="fill: #27ae60; fill-opacity: 0.6; stroke: #27ae60; stroke-opacity: 0.6"/>
     <circle cx="467.18" cy="105.60" r="2.7386" style="fill: #27ae60; fill-opacity: 0.6; stroke: #27ae60; stroke-opacity: 0.6"/>
     <circle cx="466.42" cy="110.40" r="2.7386" style="fill: #27ae60; fill-opacity: 0.6; stroke: #27ae60; stroke-opacity: 0.6"/>
     <circle cx="471.22" cy="111.60" r="2.7386" style="fill: #27ae60; fill-opacity: 0.6; stroke: #27ae60; stroke-opacity: 0.6"/>
     <circle cx="468.00" cy="114.38" r="2.7386" style="fill: #27ae60; fill-opacity: 0.6; stroke: #27ae60; stroke-opacity: 0.6"/>
     <circle cx="476.40" cy="114.82" r="2.7386" style="fill: #27ae60; fill-opacity: 0.6; stroke: #27ae60; stroke-opacity: 0.6"/>
     <circle cx="507.98" cy="114.38" r="2.7386" style="fill: #27ae60; fill-opacity: 0.6; stroke: #27ae60; stroke-opacity: 0.6"/>
     <circle cx="494.40" cy="118.42" r="2.7386" style="fill: #27ae60; fill-opacity: 0.6; stroke: #27ae60; stroke-opacity: 0.6"/>
     <circle cx="494.88" cy="118.80" r="2.7386" style="fill: #27ae60; fill-opacity: 0.6; stroke: #27ae60; stroke-opacity: 0.6"/>
     <circle cx="495.22" cy="116.02" r="2.7386" style="fill: #27ae60; fill-opacity: 0.6; stroke: #27ae60; stroke-opacity: 0.6"/>
     <circle cx="494.02" cy="120.00" r="2.7386" style="fill: #27ae60; fill-opacity: 0.6; stroke: #27ae60; stroke-opacity: 0.6"/>
     <circle cx="484.80" cy="122.40" r="2.7386" style="fill: #27ae60; fill-opacity: 0.6; stroke: #27ae60; stroke-opacity: 0.6"/>
     <circle cx="485.28" cy="121.92" r="2.7386" style="fill: #27ae60; fill-opacity: 0.6; stroke: #27ae60; stroke-opacity: 0.6"/>
     <circle cx="487.20" cy="121.20" r="2.7386" style="fill: #27ae60; fill-opacity: 0.6; stroke: #27ae60; stroke-opacity: 0.6"/>
     <circle cx="476.40" cy="120.82" r="2.7386" style="fill: #27ae60; fill-opacity: 0.6; stroke: #27ae60; stroke-opacity: 0.6"/>
     <circle cx="467.18" cy="121.58" r="2.7386" style="fill: #27ae60; fill-opacity: 0.6; stroke: #27ae60; stroke-opacity: 0.6"/>
     <circle cx="469.58" cy="124.80" r="2.7386" style="fill: #27ae60; fill-opacity: 0.6; stroke: #27ae60; stroke-opacity: 0.6"/>
     <circle cx="463.20" cy="123.98" r="2.7386" style="fill: #27ae60; fill-opacity: 0.6; stroke: #27ae60; stroke-opacity: 0.6"/>
     <circle cx="471.98" cy="122.40" r="2.7386" style="fill: #27ae60; fill-opacity: 0.6; stroke: #27ae60; stroke-opacity: 0.6"/>
     <circle cx="478.42" cy="117.60" r="2.7386" style="fill: #27ae60; fill-opacity: 0.6; stroke: #27ae60; stroke-opacity: 0.6"/>
     <circle cx="495.22" cy="124.80" r="2.7386" style="fill: #27ae60; fill-opacity: 0.6; stroke: #27ae60; stroke-opacity: 0.6"/>
     <circle cx="491.18" cy="122.40" r="2.7386" style="fill: #27ae60; fill-opacity: 0.6; stroke: #27ae60; stroke-opacity: 0.6"/>
     <circle cx="500.78" cy="125.18" r="2.7386" style="fill: #27ae60; fill-opacity: 0.6; stroke: #27ae60; stroke-opacity: 0.6"/>
     <circle cx="501.60" cy="121.58" r="2.7386" style="fill: #27ae60; fill-opacity: 0.6; stroke: #27ae60; stroke-opacity: 0.6"/>
     <circle cx="507.22" cy="120.00" r="2.7386" style="fill: #27ae60; fill-opacity: 0.6; stroke: #27ae60; stroke-opacity: 0.6"/>
     <circle cx="508.42" cy="124.80" r="2.7386" style="fill: #27ae60; fill-opacity: 0.6; stroke: #27ae60; stroke-opacity: 0.6"/>
     <circle cx="510.38" cy="118.42" r="2.7386" style="fill: #27ae60; fill-opacity: 0.6; stroke: #27ae60; stroke-opacity: 0.6"/>
     <circle cx="480.00" cy="123.84" r="2.7386" style="fill: #27ae60; fill-opacity: 0.6; stroke: #27ae60; stroke-opacity: 0.6"/>
     <circle cx="474.24" cy="118.56" r="2.7386" style="fill: #27ae60; fill-opacity: 0.6; stroke: #27ae60; stroke-opacity: 0.6"/>
     <circle cx="469.44" cy="118.08" r="2.7386" style="fill: #27ae60; fill-opacity: 0.6; stroke: #27ae60; stroke-opacity: 0.6"/>
     <circle cx="520.99" cy="98.78" r="2.7386" style="fill: #27ae60; fill-opacity: 0.6; stroke: #27ae60; stroke-opacity: 0.6"/>
     <circle cx="519.22" cy="100.80" r="2.7386" style="fill: #27ae60; fill-opacity: 0.6; stroke: #27ae60; stroke-opacity: 0.6"/>
     <circle cx="522.00" cy="102.82" r="2.7386" style="fill: #27ae60; fill-opacity: 0.6; stroke: #27ae60; stroke-opacity: 0.6"/>
     <circle cx="520.42" cy="101.62" r="2.7386" style="fill: #27ae60; fill-opacity: 0.6; stroke: #27ae60; stroke-opacity: 0.6"/>
     <circle cx="513.98" cy="103.20" r="2.7386" style="fill: #27ae60; fill-opacity: 0.6; stroke: #27ae60; stroke-opacity: 0.6"/>
     <circle cx="507.60" cy="100.42" r="2.7386" style="fill: #27ae60; fill-opacity: 0.6; stroke: #27ae60; stroke-opacity: 0.6"/>
     <circle cx="534.00" cy="104.59" r="2.7386" style="fill: #27ae60; fill-opacity: 0.6; stroke: #27ae60; stroke-opacity: 0.6"/>
     <circle cx="534.24" cy="104.88" r="2.7386" style="fill: #27ae60; fill-opacity: 0.6; stroke: #27ae60; stroke-opacity: 0.6"/>
     <circle cx="536.40" cy="105.41" r="2.7386" style="fill: #27ae60; fill-opacity: 0.6; stroke: #27ae60; stroke-opacity: 0.6"/>
     <circle cx="536.02" cy="111.22" r="2.7386" style="fill: #27ae60; fill-opacity: 0.6; stroke: #27ae60; stroke-opacity: 0.6"/>
     <circle cx="534.00" cy="110.40" r="2.7386" style="fill: #27ae60; fill-opacity: 0.6; stroke: #27ae60; stroke-opacity: 0.6"/>
     <circle cx="537.22" cy="117.60" r="2.7386" style="fill: #27ae60; fill-opacity: 0.6; stroke: #27ae60; stroke-opacity: 0.6"/>
     <circle cx="534.38" cy="118.42" r="2.7386" style="fill: #27ae60; fill-opacity: 0.6; stroke: #27ae60; stroke-opacity: 0.6"/>
     <circle cx="535.20" cy="124.42" r="2.7386" style="fill: #27ae60; fill-opacity: 0.6; stroke: #27ae60; stroke-opacity: 0.6"/>
     <circle cx="530.40" cy="124.80" r="2.7386" style="fill: #27ae60; fill-opacity: 0.6; stroke: #27ae60; stroke-opacity: 0.6"/>
     <circle cx="526.80" cy="110.02" r="2.7386" style="fill: #27ae60; fill-opacity: 0.6; stroke: #27ae60; stroke-opacity: 0.6"/>
     <circle cx="506.40" cy="109.58" r="2.7386" style="fill: #27ae60; fill-opacity: 0.6; stroke: #27ae60; stroke-opacity: 0.6"/>
     <circle cx="507.60" cy="114.38" r="2.7386" style="fill: #27ae60; fill-opacity: 0.6; stroke: #27ae60; stroke-opacity: 0.6"/>
     <circle cx="508.42" cy="124.80" r="2.7386" style="fill: #27ae60; fill-opacity: 0.6; stroke: #27ae60; stroke-opacity: 0.6"/>
     <circle cx="513.60" cy="124.80" r="2.7386" style="fill: #27ae60; fill-opacity: 0.6; stroke: #27ae60; stroke-opacity: 0.6"/>
     <circle cx="515.62" cy="106.80" r="2.7386" style="fill: #27ae60; fill-opacity: 0.6; stroke: #27ae60; stroke-opacity: 0.6"/>
     <circle cx="518.78" cy="105.60" r="2.7386" style="fill: #27ae60; fill-opacity: 0.6; stroke: #27ae60; stroke-opacity: 0.6"/>
     <circle cx="518.38" cy="111.61" r="2.7386" style="fill: #27ae60; fill-opacity: 0.6; stroke: #27ae60; stroke-opacity: 0.6"/>
     <circle cx="524.66" cy="110.48" r="2.7386" style="fill: #27ae60; fill-opacity: 0.6; stroke: #27ae60; stroke-opacity: 0.6"/>
     <circle cx="522.45" cy="114.71" r="2.7386" style="fill: #27ae60; fill-opacity: 0.6; stroke: #27ae60; stroke-opacity: 0.6"/>
     <circle cx="513.27" cy="116.75" r="2.7386" style="fill: #27ae60; fill-opacity: 0.6; stroke: #27ae60; stroke-opacity: 0.6"/>
     <circle cx="512.88" cy="115.68" r="2.7386" style="fill: #27ae60; fill-opacity: 0.6; stroke: #27ae60; stroke-opacity: 0.6"/>
     <circle cx="513.50" cy="110.75" r="2.7386" style="fill: #27ae60; fill-opacity: 0.6; stroke: #27ae60; stroke-opacity: 0.6"/>
     <circle cx="520.31" cy="121.35" r="2.7386" style="fill: #27ae60; fill-opacity: 0.6; stroke: #27ae60; stroke-opacity: 0.6"/>
     <circle cx="514.54" cy="112.65" r="2.7386" style="fill: #27ae60; fill-opacity: 0.6; stroke: #27ae60; stroke-opacity: 0.6"/>
     <circle cx="524.21" cy="123.09" r="2.7386" style="fill: #27ae60; fill-opacity: 0.6; stroke: #27ae60; stroke-opacity: 0.6"/>
     <circle cx="523.24" cy="115.15" r="2.7386" style="fill: #27ae60; fill-opacity: 0.6; stroke: #27ae60; stroke-opacity: 0.6"/>
     <circle cx="530.90" cy="110.11" r="2.7386" style="fill: #27ae60; fill-opacity: 0.6; stroke: #27ae60; stroke-opacity: 0.6"/>
     <circle cx="528.64" cy="113.61" r="2.7386" style="fill: #27ae60; fill-opacity: 0.6; stroke: #27ae60; stroke-opacity: 0.6"/>
     <circle cx="514.93" cy="111.14" r="2.7386" style="fill: #27ae60; fill-opacity: 0.6; stroke: #27ae60; stroke-opacity: 0.6"/>
     <circle cx="518.08" cy="121.19" r="2.7386" style="fill: #27ae60; fill-opacity: 0.6; stroke: #27ae60; stroke-opacity: 0.6"/>
     <circle cx="515.63" cy="117.82" r="2.7386" style="fill: #27ae60; fill-opacity: 0.6; stroke: #27ae60; stroke-opacity: 0.6"/>
     <circle cx="524.43" cy="114.80" r="2.7386" style="fill: #27ae60; fill-opacity: 0.6; stroke: #27ae60; stroke-opacity: 0.6"/>
     <circle cx="522.68" cy="110.34" r="2.7386" style="fill: #27ae60; fill-opacity: 0.6; stroke: #27ae60; stroke-opacity: 0.6"/>
     <circle cx="513.30" cy="112.41" r="2.7386" style="fill: #27ae60; fill-opacity: 0.6; stroke: #27ae60; stroke-opacity: 0.6"/>
     <circle cx="525.22" cy="115.60" r="2.7386" style="fill: #27ae60; fill-opacity: 0.6; stroke: #27ae60; stroke-opacity: 0.6"/>
     <circle cx="518.19" cy="117.87" r="2.7386" style="fill: #27ae60; fill-opacity: 0.6; stroke: #27ae60; stroke-opacity: 0.6"/>
     <circle cx="520.86" cy="113.76" r="2.7386" style="fill: #27ae60; fill-opacity: 0.6; stroke: #27ae60; stroke-opacity: 0.6"/>
     <circle cx="527.41" cy="119.51" r="2.7386" style="fill: #27ae60; fill-opacity: 0.6; stroke: #27ae60; stroke-opacity: 0.6"/>
     <circle cx="516.85" cy="117.71" r="2.7386" style="fill: #27ae60; fill-opacity: 0.6; stroke: #27ae60; stroke-opacity: 0.6"/>
     <circle cx="522.24" cy="122.04" r="2.7386" style="fill: #27ae60; fill-opacity: 0.6; stroke: #27ae60; stroke-opacity: 0.6"/>
     <circle cx="526.17" cy="113.59" r="2.7386" style="fill: #27ae60; fill-opacity: 0.6; stroke: #27ae60; stroke-opacity: 0.6"/>
     <circle cx="530.98" cy="111.14" r="2.7386" style="fill: #27ae60; fill-opacity: 0.6; stroke: #27ae60; stroke-opacity: 0.6"/>
     <circle cx="520.19" cy="120.34" r="2.7386" style="fill: #27ae60; fill-opacity: 0.6; stroke: #27ae60; stroke-opacity: 0.6"/>
     <circle cx="515.08" cy="116.48" r="2.7386" style="fill: #27ae60; fill-opacity: 0.6; stroke: #27ae60; stroke-opacity: 0.6"/>
     <circle cx="512.91" cy="119.06" r="2.7386" style="fill: #27ae60; fill-opacity: 0.6; stroke: #27ae60; stroke-opacity: 0.6"/>
     <circle cx="526.84" cy="117.69" r="2.7386" style="fill: #27ae60; fill-opacity: 0.6; stroke: #27ae60; stroke-opacity: 0.6"/>
     <circle cx="528.97" cy="113.96" r="2.7386" style="fill: #27ae60; fill-opacity: 0.6; stroke: #27ae60; stroke-opacity: 0.6"/>
     <circle cx="525.51" cy="118.00" r="2.7386" style="fill: #27ae60; fill-opacity: 0.6; stroke: #27ae60; stroke-opacity: 0.6"/>
     <circle cx="523.29" cy="116.01" r="2.7386" style="fill: #27ae60; fill-opacity: 0.6; stroke: #27ae60; stroke-opacity: 0.6"/>
     <circle cx="528.29" cy="123.04" r="2.7386" style="fill: #27ae60; fill-opacity: 0.6; stroke: #27ae60; stroke-opacity: 0.6"/>
     <circle cx="380.02" cy="116.40" r="2.7386" style="fill: #27ae60; fill-opacity: 0.6; stroke: #27ae60; stroke-opacity: 0.6"/>
     <circle cx="380.16" cy="116.64" r="2.7386" style="fill: #27ae60; fill-opacity: 0.6; stroke: #27ae60; stroke-opacity: 0.6"/>
     <circle cx="379.44" cy="115.92" r="2.7386" style="fill: #27ae60; fill-opacity: 0.6; stroke: #27ae60; stroke-opacity: 0.6"/>
     <circle cx="404.02" cy="117.98" r="2.7386" style="fill: #27ae60; fill-opacity: 0.6; stroke: #27ae60; stroke-opacity: 0.6"/>
     <circle cx="384.48" cy="114.24" r="2.7386" style="fill: #27ae60; fill-opacity: 0.6; stroke: #27ae60; stroke-opacity: 0.6"/>
     <circle cx="377.28" cy="118.08" r="2.7386" style="fill: #27ae60; fill-opacity: 0.6; stroke: #27ae60; stroke-opacity: 0.6"/>
     <circle cx="406.42" cy="112.80" r="2.7386" style="fill: #27ae60; fill-opacity: 0.6; stroke: #27ae60; stroke-opacity: 0.6"/>
     <circle cx="411.98" cy="111.98" r="2.7386" style="fill: #27ae60; fill-opacity: 0.6; stroke: #27ae60; stroke-opacity: 0.6"/>
     <circle cx="412.42" cy="114.82" r="2.7386" style="fill: #27ae60; fill-opacity: 0.6; stroke: #27ae60; stroke-opacity: 0.6"/>
     <circle cx="417.22" cy="114.38" r="2.7386" style="fill: #27ae60; fill-opacity: 0.6; stroke: #27ae60; stroke-opacity: 0.6"/>
     <circle cx="417.22" cy="123.98" r="2.7386" style="fill: #27ae60; fill-opacity: 0.6; stroke: #27ae60; stroke-opacity: 0.6"/>
     <circle cx="373.58" cy="120.82" r="2.7386" style="fill: #27ae60; fill-opacity: 0.6; stroke: #27ae60; stroke-opacity: 0.6"/>
     <circle cx="370.80" cy="123.98" r="2.7386" style="fill: #27ae60; fill-opacity: 0.6; stroke: #27ae60; stroke-opacity: 0.6"/>
     <circle cx="449.71" cy="121.58" r="2.7386" style="fill: #27ae60; fill-opacity: 0.6; stroke: #27ae60; stroke-opacity: 0.6"/>
     <circle cx="425.89" cy="121.88" r="2.7386" style="fill: #27ae60; fill-opacity: 0.6; stroke: #27ae60; stroke-opacity: 0.6"/>
     <circle cx="459.67" cy="124.26" r="2.7386" style="fill: #27ae60; fill-opacity: 0.6; stroke: #27ae60; stroke-opacity: 0.6"/>
     <circle cx="469.74" cy="118.48" r="2.7386" style="fill: #27ae60; fill-opacity: 0.6; stroke: #27ae60; stroke-opacity: 0.6"/>
     <circle cx="444.62" cy="121.62" r="2.7386" style="fill: #27ae60; fill-opacity: 0.6; stroke: #27ae60; stroke-opacity: 0.6"/>
     <circle cx="423.70" cy="119.93" r="2.7386" style="fill: #27ae60; fill-opacity: 0.6; stroke: #27ae60; stroke-opacity: 0.6"/>
     <circle cx="432.08" cy="117.12" r="2.7386" style="fill: #27ae60; fill-opacity: 0.6; stroke: #27ae60; stroke-opacity: 0.6"/>
     <circle cx="425.80" cy="122.43" r="2.7386" style="fill: #27ae60; fill-opacity: 0.6; stroke: #27ae60; stroke-opacity: 0.6"/>
     <circle cx="429.85" cy="118.18" r="2.7386" style="fill: #27ae60; fill-opacity: 0.6; stroke: #27ae60; stroke-opacity: 0.6"/>
     <circle cx="444.92" cy="123.27" r="2.7386" style="fill: #27ae60; fill-opacity: 0.6; stroke: #27ae60; stroke-opacity: 0.6"/>
     <circle cx="427.04" cy="119.83" r="2.7386" style="fill: #27ae60; fill-opacity: 0.6; stroke: #27ae60; stroke-opacity: 0.6"/>
     <circle cx="454.05" cy="123.37" r="2.7386" style="fill: #27ae60; fill-opacity: 0.6; stroke: #27ae60; stroke-opacity: 0.6"/>
     <circle cx="469.59" cy="123.21" r="2.7386" style="fill: #27ae60; fill-opacity: 0.6; stroke: #27ae60; stroke-opacity: 0.6"/>
     <circle cx="438.44" cy="119.55" r="2.7386" style="fill: #27ae60; fill-opacity: 0.6; stroke: #27ae60; stroke-opacity: 0.6"/>
     <circle cx="443.07" cy="123.38" r="2.7386" style="fill: #27ae60; fill-opacity: 0.6; stroke: #27ae60; stroke-opacity: 0.6"/>
     <circle cx="477.57" cy="117.39" r="2.7386" style="fill: #27ae60; fill-opacity: 0.6; stroke: #27ae60; stroke-opacity: 0.6"/>
     <circle cx="432.55" cy="118.05" r="2.7386" style="fill: #27ae60; fill-opacity: 0.6; stroke: #27ae60; stroke-opacity: 0.6"/>
     <circle cx="435.84" cy="120.12" r="2.7386" style="fill: #27ae60; fill-opacity: 0.6; stroke: #27ae60; stroke-opacity: 0.6"/>
     <circle cx="456.33" cy="118.30" r="2.7386" style="fill: #27ae60; fill-opacity: 0.6; stroke: #27ae60; stroke-opacity: 0.6"/>
     <circle cx="422.64" cy="119.58" r="2.7386" style="fill: #27ae60; fill-opacity: 0.6; stroke: #27ae60; stroke-opacity: 0.6"/>
     <circle cx="443.67" cy="120.78" r="2.7386" style="fill: #27ae60; fill-opacity: 0.6; stroke: #27ae60; stroke-opacity: 0.6"/>
     <circle cx="477.30" cy="121.79" r="2.7386" style="fill: #27ae60; fill-opacity: 0.6; stroke: #27ae60; stroke-opacity: 0.6"/>
     <circle cx="495.34" cy="120.83" r="2.7386" style="fill: #27ae60; fill-opacity: 0.6; stroke: #27ae60; stroke-opacity: 0.6"/>
     <circle cx="500.12" cy="115.69" r="2.7386" style="fill: #27ae60; fill-opacity: 0.6; stroke: #27ae60; stroke-opacity: 0.6"/>
     <circle cx="506.77" cy="122.31" r="2.7386" style="fill: #27ae60; fill-opacity: 0.6; stroke: #27ae60; stroke-opacity: 0.6"/>
     <circle cx="506.03" cy="122.48" r="2.7386" style="fill: #27ae60; fill-opacity: 0.6; stroke: #27ae60; stroke-opacity: 0.6"/>
     <circle cx="491.68" cy="118.84" r="2.7386" style="fill: #27ae60; fill-opacity: 0.6; stroke: #27ae60; stroke-opacity: 0.6"/>
     <circle cx="483.08" cy="120.98" r="2.7386" style="fill: #27ae60; fill-opacity: 0.6; stroke: #27ae60; stroke-opacity: 0.6"/>
     <circle cx="480.01" cy="116.58" r="2.7386" style="fill: #27ae60; fill-opacity: 0.6; stroke: #27ae60; stroke-opacity: 0.6"/>
     <circle cx="480.76" cy="123.17" r="2.7386" style="fill: #27ae60; fill-opacity: 0.6; stroke: #27ae60; stroke-opacity: 0.6"/>
     <circle cx="523.32" cy="110.76" r="2.7386" style="fill: #27ae60; fill-opacity: 0.6; stroke: #27ae60; stroke-opacity: 0.6"/>
     <circle cx="515.33" cy="113.82" r="2.7386" style="fill: #27ae60; fill-opacity: 0.6; stroke: #27ae60; stroke-opacity: 0.6"/>
     <circle cx="517.80" cy="110.37" r="2.7386" style="fill: #27ae60; fill-opacity: 0.6; stroke: #27ae60; stroke-opacity: 0.6"/>
     <circle cx="528.50" cy="123.73" r="2.7386" style="fill: #27ae60; fill-opacity: 0.6; stroke: #27ae60; stroke-opacity: 0.6"/>
     <circle cx="520.05" cy="115.91" r="2.7386" style="fill: #27ae60; fill-opacity: 0.6; stroke: #27ae60; stroke-opacity: 0.6"/>
     <circle cx="511.66" cy="110.05" r="2.7386" style="fill: #27ae60; fill-opacity: 0.6; stroke: #27ae60; stroke-opacity: 0.6"/>
     <circle cx="517.33" cy="112.55" r="2.7386" style="fill: #27ae60; fill-opacity: 0.6; stroke: #27ae60; stroke-opacity: 0.6"/>
     <circle cx="528.06" cy="110.96" r="2.7386" style="fill: #27ae60; fill-opacity: 0.6; stroke: #27ae60; stroke-opacity: 0.6"/>
     <circle cx="510.27" cy="123.09" r="2.7386" style="fill: #27ae60; fill-opacity: 0.6; stroke: #27ae60; stroke-opacity: 0.6"/>
     <circle cx="521.42" cy="110.73" r="2.7386" style="fill: #27ae60; fill-opacity: 0.6; stroke: #27ae60; stroke-opacity: 0.6"/>
     <circle cx="453.60" cy="115.49" r="2.7386" style="fill: #27ae60; fill-opacity: 0.6; stroke: #27ae60; stroke-opacity: 0.6"/>
     <circle cx="452.16" cy="117.12" r="2.7386" style="fill: #27ae60; fill-opacity: 0.6; stroke: #27ae60; stroke-opacity: 0.6"/>
     <circle cx="455.04" cy="113.76" r="2.7386" style="fill: #27ae60; fill-opacity: 0.6; stroke: #27ae60; stroke-opacity: 0.6"/>
     <circle cx="449.28" cy="120.96" r="2.7386" style="fill: #27ae60; fill-opacity: 0.6; stroke: #27ae60; stroke-opacity: 0.6"/>
     <circle cx="458.40" cy="122.88" r="2.7386" style="fill: #27ae60; fill-opacity: 0.6; stroke: #27ae60; stroke-opacity: 0.6"/>
     <circle cx="463.20" cy="121.92" r="2.7386" style="fill: #27ae60; fill-opacity: 0.6; stroke: #27ae60; stroke-opacity: 0.6"/>
     <circle cx="468.00" cy="120.00" r="2.7386" style="fill: #27ae60; fill-opacity: 0.6; stroke: #27ae60; stroke-opacity: 0.6"/>
     <circle cx="472.80" cy="123.36" r="2.7386" style="fill: #27ae60; fill-opacity: 0.6; stroke: #27ae60; stroke-opacity: 0.6"/>
     <circle cx="484.51" cy="122.54" r="2.7386" style="fill: #27ae60; fill-opacity: 0.6; stroke: #27ae60; stroke-opacity: 0.6"/>
     <circle cx="441.60" cy="122.40" r="2.7386" style="fill: #27ae60; fill-opacity: 0.6; stroke: #27ae60; stroke-opacity: 0.6"/>
     <circle cx="446.40" cy="123.84" r="2.7386" style="fill: #27ae60; fill-opacity: 0.6; stroke: #27ae60; stroke-opacity: 0.6"/>
     <circle cx="517.44" cy="123.84" r="2.7386" style="fill: #27ae60; fill-opacity: 0.6; stroke: #27ae60; stroke-opacity: 0.6"/>
     <circle cx="523.20" cy="123.36" r="2.7386" style="fill: #27ae60; fill-opacity: 0.6; stroke: #27ae60; stroke-opacity: 0.6"/>
     <circle cx="525.60" cy="122.40" r="2.7386" style="fill: #27ae60; fill-opacity: 0.6; stroke: #27ae60; stroke-opacity: 0.6"/>
     <circle cx="519.36" cy="121.92" r="2.7386" style="fill: #27ae60; fill-opacity: 0.6; stroke: #27ae60; stroke-opacity: 0.6"/>
     <circle cx="522.24" cy="124.32" r="2.7386" style="fill: #27ae60; fill-opacity: 0.6; stroke: #27ae60; stroke-opacity: 0.6"/>
     <circle cx="477.60" cy="108.00" r="2.7386" style="fill: #27ae60; fill-opacity: 0.6; stroke: #27ae60; stroke-opacity: 0.6"/>
     <circle cx="481.44" cy="110.40" r="2.7386" style="fill: #27ae60; fill-opacity: 0.6; stroke: #27ae60; stroke-opacity: 0.6"/>
     <circle cx="484.80" cy="108.48" r="2.7386" style="fill: #27ae60; fill-opacity: 0.6; stroke: #27ae60; stroke-opacity: 0.6"/>
     <circle cx="475.20" cy="112.80" r="2.7386" style="fill: #27ae60; fill-opacity: 0.6; stroke: #27ae60; stroke-opacity: 0.6"/>
    </g>
   </g>
   <g id="PathCollection_2">
    <g clip-path="url(#p90a173c5ce)">
     <circle cx="101.95" cy="56.35" r="2.7386" style="fill: #e74c3c; fill-opacity: 0.6; stroke: #e74c3c; stroke-opacity: 0.6"/>
     <circle cx="135.07" cy="83.71" r="2.7386" style="fill: #e74c3c; fill-opacity: 0.6; stroke: #e74c3c; stroke-opacity: 0.6"/>
     <circle cx="136.51" cy="92.83" r="2.7386" style="fill: #e74c3c; fill-opacity: 0.6; stroke: #e74c3c; stroke-opacity: 0.6"/>
     <circle cx="109.63" cy="98.11" r="2.7386" style="fill: #e74c3c; fill-opacity: 0.6; stroke: #e74c3c; stroke-opacity: 0.6"/>
     <circle cx="96.19" cy="104.26" r="2.7386" style="fill: #e74c3c; fill-opacity: 0.6; stroke: #e74c3c; stroke-opacity: 0.6"/>
     <circle cx="85.15" cy="110.59" r="2.7386" style="fill: #e74c3c; fill-opacity: 0.6; stroke: #e74c3c; stroke-opacity: 0.6"/>
     <circle cx="101.95" cy="112.03" r="2.7386" style="fill: #e74c3c; fill-opacity: 0.6; stroke: #e74c3c; stroke-opacity: 0.6"/>
     <circle cx="113.47" cy="112.51" r="2.7386" style="fill: #e74c3c; fill-opacity: 0.6; stroke: #e74c3c; stroke-opacity: 0.6"/>
     <circle cx="146.11" cy="110.11" r="2.7386" style="fill: #e74c3c; fill-opacity: 0.6; stroke: #e74c3c; stroke-opacity: 0.6"/>
     <circle cx="132.67" cy="118.75" r="2.7386" style="fill: #e74c3c; fill-opacity: 0.6; stroke: #e74c3c; stroke-opacity: 0.6"/>
     <circle cx="193.15" cy="43.39" r="2.7386" style="fill: #e74c3c; fill-opacity: 0.6; stroke: #e74c3c; stroke-opacity: 0.6"/>
     <circle cx="186.43" cy="57.94" r="2.7386" style="fill: #e74c3c; fill-opacity: 0.6; stroke: #e74c3c; stroke-opacity: 0.6"/>
     <circle cx="190.27" cy="77.86" r="2.7386" style="fill: #e74c3c; fill-opacity: 0.6; stroke: #e74c3c; stroke-opacity: 0.6"/>
     <circle cx="208.94" cy="89.90" r="2.7386" style="fill: #e74c3c; fill-opacity: 0.6; stroke: #e74c3c; stroke-opacity: 0.6"/>
     <circle cx="213.31" cy="102.38" r="2.7386" style="fill: #e74c3c; fill-opacity: 0.6; stroke: #e74c3c; stroke-opacity: 0.6"/>
     <circle cx="220.03" cy="110.06" r="2.7386" style="fill: #e74c3c; fill-opacity: 0.6; stroke: #e74c3c; stroke-opacity: 0.6"/>
     <circle cx="201.79" cy="115.39" r="2.7386" style="fill: #e74c3c; fill-opacity: 0.6; stroke: #e74c3c; stroke-opacity: 0.6"/>
     <circle cx="169.15" cy="118.27" r="2.7386" style="fill: #e74c3c; fill-opacity: 0.6; stroke: #e74c3c; stroke-opacity: 0.6"/>
     <circle cx="240.62" cy="75.50" r="2.7386" style="fill: #e74c3c; fill-opacity: 0.6; stroke: #e74c3c; stroke-opacity: 0.6"/>
     <circle cx="233.90" cy="115.73" r="2.7386" style="fill: #e74c3c; fill-opacity: 0.6; stroke: #e74c3c; stroke-opacity: 0.6"/>
     <circle cx="241.06" cy="117.89" r="2.7386" style="fill: #e74c3c; fill-opacity: 0.6; stroke: #e74c3c; stroke-opacity: 0.6"/>
     <circle cx="244.03" cy="117.89" r="2.7386" style="fill: #e74c3c; fill-opacity: 0.6; stroke: #e74c3c; stroke-opacity: 0.6"/>
     <circle cx="247.87" cy="112.51" r="2.7386" style="fill: #e74c3c; fill-opacity: 0.6; stroke: #e74c3c; stroke-opacity: 0.6"/>
     <circle cx="253.87" cy="105.79" r="2.7386" style="fill: #e74c3c; fill-opacity: 0.6; stroke: #e74c3c; stroke-opacity: 0.6"/>
     <circle cx="263.71" cy="77.47" r="2.7386" style="fill: #e74c3c; fill-opacity: 0.6; stroke: #e74c3c; stroke-opacity: 0.6"/>
     <circle cx="289.58" cy="80.40" r="2.7386" style="fill: #e74c3c; fill-opacity: 0.6; stroke: #e74c3c; stroke-opacity: 0.6"/>
     <circle cx="258.43" cy="94.70" r="2.7386" style="fill: #e74c3c; fill-opacity: 0.6; stroke: #e74c3c; stroke-opacity: 0.6"/>
     <circle cx="278.59" cy="96.19" r="2.7386" style="fill: #e74c3c; fill-opacity: 0.6; stroke: #e74c3c; stroke-opacity: 0.6"/>
     <circle cx="294.34" cy="100.27" r="2.7386" style="fill: #e74c3c; fill-opacity: 0.6; stroke: #e74c3c; stroke-opacity: 0.6"/>
     <circle cx="295.30" cy="104.35" r="2.7386" style="fill: #e74c3c; fill-opacity: 0.6; stroke: #e74c3c; stroke-opacity: 0.6"/>
     <circle cx="283.34" cy="108.10" r="2.7386" style="fill: #e74c3c; fill-opacity: 0.6; stroke: #e74c3c; stroke-opacity: 0.6"/>
     <circle cx="265.44" cy="110.50" r="2.7386" style="fill: #e74c3c; fill-opacity: 0.6; stroke: #e74c3c; stroke-opacity: 0.6"/>
     <circle cx="269.42" cy="110.02" r="2.7386" style="fill: #e74c3c; fill-opacity: 0.6; stroke: #e74c3c; stroke-opacity: 0.6"/>
     <circle cx="258.86" cy="118.27" r="2.7386" style="fill: #e74c3c; fill-opacity: 0.6; stroke: #e74c3c; stroke-opacity: 0.6"/>
     <circle cx="291.02" cy="123.07" r="2.7386" style="fill: #e74c3c; fill-opacity: 0.6; stroke: #e74c3c; stroke-opacity: 0.6"/>
     <circle cx="323.28" cy="320.78" r="2.7386" style="fill: #e74c3c; fill-opacity: 0.6; stroke: #e74c3c; stroke-opacity: 0.6"/>
     <circle cx="334.32" cy="320.74" r="2.7386" style="fill: #e74c3c; fill-opacity: 0.6; stroke: #e74c3c; stroke-opacity: 0.6"/>
     <circle cx="341.42" cy="322.66" r="2.7386" style="fill: #e74c3c; fill-opacity: 0.6; stroke: #e74c3c; stroke-opacity: 0.6"/>
     <circle cx="350.54" cy="318.38" r="2.7386" style="fill: #e74c3c; fill-opacity: 0.6; stroke: #e74c3c; stroke-opacity: 0.6"/>
     <circle cx="345.36" cy="326.54" r="2.7386" style="fill: #e74c3c; fill-opacity: 0.6; stroke: #e74c3c; stroke-opacity: 0.6"/>
     <circle cx="329.38" cy="328.94" r="2.7386" style="fill: #e74c3c; fill-opacity: 0.6; stroke: #e74c3c; stroke-opacity: 0.6"/>
     <circle cx="334.80" cy="330.38" r="2.7386" style="fill: #e74c3c; fill-opacity: 0.6; stroke: #e74c3c; stroke-opacity: 0.6"/>
     <circle cx="317.90" cy="334.70" r="2.7386" style="fill: #e74c3c; fill-opacity: 0.6; stroke: #e74c3c; stroke-opacity: 0.6"/>
     <circle cx="323.28" cy="335.66" r="2.7386" style="fill: #e74c3c; fill-opacity: 0.6; stroke: #e74c3c; stroke-opacity: 0.6"/>
     <circle cx="374.54" cy="328.46" r="2.7386" style="fill: #e74c3c; fill-opacity: 0.6; stroke: #e74c3c; stroke-opacity: 0.6"/>
     <circle cx="386.98" cy="325.10" r="2.7386" style="fill: #e74c3c; fill-opacity: 0.6; stroke: #e74c3c; stroke-opacity: 0.6"/>
     <circle cx="390.48" cy="319.82" r="2.7386" style="fill: #e74c3c; fill-opacity: 0.6; stroke: #e74c3c; stroke-opacity: 0.6"/>
     <circle cx="404.88" cy="329.90" r="2.7386" style="fill: #e74c3c; fill-opacity: 0.6; stroke: #e74c3c; stroke-opacity: 0.6"/>
     <circle cx="388.94" cy="342.82" r="2.7386" style="fill: #e74c3c; fill-opacity: 0.6; stroke: #e74c3c; stroke-opacity: 0.6"/>
     <circle cx="399.02" cy="347.66" r="2.7386" style="fill: #e74c3c; fill-opacity: 0.6; stroke: #e74c3c; stroke-opacity: 0.6"/>
     <circle cx="410.16" cy="319.34" r="2.7386" style="fill: #e74c3c; fill-opacity: 0.6; stroke: #e74c3c; stroke-opacity: 0.6"/>
     <circle cx="423.12" cy="318.24" r="2.7386" style="fill: #e74c3c; fill-opacity: 0.6; stroke: #e74c3c; stroke-opacity: 0.6"/>
     <circle cx="422.06" cy="321.26" r="2.7386" style="fill: #e74c3c; fill-opacity: 0.6; stroke: #e74c3c; stroke-opacity: 0.6"/>
     <circle cx="422.54" cy="327.02" r="2.7386" style="fill: #e74c3c; fill-opacity: 0.6; stroke: #e74c3c; stroke-opacity: 0.6"/>
     <circle cx="414.96" cy="328.42" r="2.7386" style="fill: #e74c3c; fill-opacity: 0.6; stroke: #e74c3c; stroke-opacity: 0.6"/>
     <circle cx="432.14" cy="319.78" r="2.7386" style="fill: #e74c3c; fill-opacity: 0.6; stroke: #e74c3c; stroke-opacity: 0.6"/>
     <circle cx="442.22" cy="316.94" r="2.7386" style="fill: #e74c3c; fill-opacity: 0.6; stroke: #e74c3c; stroke-opacity: 0.6"/>
     <circle cx="441.36" cy="325.06" r="2.7386" style="fill: #e74c3c; fill-opacity: 0.6; stroke: #e74c3c; stroke-opacity: 0.6"/>
     <circle cx="408.72" cy="338.50" r="2.7386" style="fill: #e74c3c; fill-opacity: 0.6; stroke: #e74c3c; stroke-opacity: 0.6"/>
     <circle cx="417.84" cy="342.38" r="2.7386" style="fill: #e74c3c; fill-opacity: 0.6; stroke: #e74c3c; stroke-opacity: 0.6"/>
     <circle cx="432.14" cy="334.18" r="2.7386" style="fill: #e74c3c; fill-opacity: 0.6; stroke: #e74c3c; stroke-opacity: 0.6"/>
     <circle cx="433.06" cy="339.22" r="2.7386" style="fill: #e74c3c; fill-opacity: 0.6; stroke: #e74c3c; stroke-opacity: 0.6"/>
     <circle cx="441.70" cy="338.02" r="2.7386" style="fill: #e74c3c; fill-opacity: 0.6; stroke: #e74c3c; stroke-opacity: 0.6"/>
     <circle cx="418.80" cy="353.42" r="2.7386" style="fill: #e74c3c; fill-opacity: 0.6; stroke: #e74c3c; stroke-opacity: 0.6"/>
     <circle cx="466.66" cy="319.34" r="2.7386" style="fill: #e74c3c; fill-opacity: 0.6; stroke: #e74c3c; stroke-opacity: 0.6"/>
     <circle cx="470.54" cy="321.74" r="2.7386" style="fill: #e74c3c; fill-opacity: 0.6; stroke: #e74c3c; stroke-opacity: 0.6"/>
     <circle cx="475.34" cy="326.16" r="2.7386" style="fill: #e74c3c; fill-opacity: 0.6; stroke: #e74c3c; stroke-opacity: 0.6"/>
     <circle cx="486.82" cy="320.64" r="2.7386" style="fill: #e74c3c; fill-opacity: 0.6; stroke: #e74c3c; stroke-opacity: 0.6"/>
     <circle cx="489.74" cy="323.66" r="2.7386" style="fill: #e74c3c; fill-opacity: 0.6; stroke: #e74c3c; stroke-opacity: 0.6"/>
     <circle cx="486.38" cy="336.14" r="2.7386" style="fill: #e74c3c; fill-opacity: 0.6; stroke: #e74c3c; stroke-opacity: 0.6"/>
     <circle cx="490.80" cy="333.60" r="2.7386" style="fill: #e74c3c; fill-opacity: 0.6; stroke: #e74c3c; stroke-opacity: 0.6"/>
     <circle cx="491.18" cy="336.38" r="2.7386" style="fill: #e74c3c; fill-opacity: 0.6; stroke: #e74c3c; stroke-opacity: 0.6"/>
     <circle cx="496.99" cy="325.92" r="2.7386" style="fill: #e74c3c; fill-opacity: 0.6; stroke: #e74c3c; stroke-opacity: 0.6"/>
     <circle cx="496.51" cy="328.51" r="2.7386" style="fill: #e74c3c; fill-opacity: 0.6; stroke: #e74c3c; stroke-opacity: 0.6"/>
     <circle cx="500.83" cy="316.51" r="2.7386" style="fill: #e74c3c; fill-opacity: 0.6; stroke: #e74c3c; stroke-opacity: 0.6"/>
     <circle cx="505.68" cy="318.48" r="2.7386" style="fill: #e74c3c; fill-opacity: 0.6; stroke: #e74c3c; stroke-opacity: 0.6"/>
     <circle cx="505.97" cy="329.42" r="2.7386" style="fill: #e74c3c; fill-opacity: 0.6; stroke: #e74c3c; stroke-opacity: 0.6"/>
     <circle cx="513.74" cy="317.42" r="2.7386" style="fill: #e74c3c; fill-opacity: 0.6; stroke: #e74c3c; stroke-opacity: 0.6"/>
     <circle cx="515.09" cy="318.91" r="2.7386" style="fill: #e74c3c; fill-opacity: 0.6; stroke: #e74c3c; stroke-opacity: 0.6"/>
     <circle cx="516.72" cy="322.51" r="2.7386" style="fill: #e74c3c; fill-opacity: 0.6; stroke: #e74c3c; stroke-opacity: 0.6"/>
     <circle cx="517.49" cy="324.62" r="2.7386" style="fill: #e74c3c; fill-opacity: 0.6; stroke: #e74c3c; stroke-opacity: 0.6"/>
     <circle cx="519.89" cy="324.00" r="2.7386" style="fill: #e74c3c; fill-opacity: 0.6; stroke: #e74c3c; stroke-opacity: 0.6"/>
     <circle cx="517.82" cy="327.02" r="2.7386" style="fill: #e74c3c; fill-opacity: 0.6; stroke: #e74c3c; stroke-opacity: 0.6"/>
     <circle cx="517.82" cy="328.80" r="2.7386" style="fill: #e74c3c; fill-opacity: 0.6; stroke: #e74c3c; stroke-opacity: 0.6"/>
     <circle cx="514.22" cy="330.00" r="2.7386" style="fill: #e74c3c; fill-opacity: 0.6; stroke: #e74c3c; stroke-opacity: 0.6"/>
     <circle cx="514.08" cy="330.24" r="2.7386" style="fill: #e74c3c; fill-opacity: 0.6; stroke: #e74c3c; stroke-opacity: 0.6"/>
     <circle cx="525.31" cy="318.91" r="2.7386" style="fill: #e74c3c; fill-opacity: 0.6; stroke: #e74c3c; stroke-opacity: 0.6"/>
     <circle cx="532.03" cy="315.50" r="2.7386" style="fill: #e74c3c; fill-opacity: 0.6; stroke: #e74c3c; stroke-opacity: 0.6"/>
     <circle cx="535.34" cy="322.70" r="2.7386" style="fill: #e74c3c; fill-opacity: 0.6; stroke: #e74c3c; stroke-opacity: 0.6"/>
     <circle cx="525.89" cy="325.82" r="2.7386" style="fill: #e74c3c; fill-opacity: 0.6; stroke: #e74c3c; stroke-opacity: 0.6"/>
     <circle cx="526.51" cy="328.22" r="2.7386" style="fill: #e74c3c; fill-opacity: 0.6; stroke: #e74c3c; stroke-opacity: 0.6"/>
     <circle cx="527.71" cy="329.42" r="2.7386" style="fill: #e74c3c; fill-opacity: 0.6; stroke: #e74c3c; stroke-opacity: 0.6"/>
     <circle cx="529.68" cy="333.31" r="2.7386" style="fill: #e74c3c; fill-opacity: 0.6; stroke: #e74c3c; stroke-opacity: 0.6"/>
     <circle cx="521.90" cy="334.70" r="2.7386" style="fill: #e74c3c; fill-opacity: 0.6; stroke: #e74c3c; stroke-opacity: 0.6"/>
     <circle cx="514.70" cy="339.50" r="2.7386" style="fill: #e74c3c; fill-opacity: 0.6; stroke: #e74c3c; stroke-opacity: 0.6"/>
     <circle cx="507.07" cy="342.29" r="2.7386" style="fill: #e74c3c; fill-opacity: 0.6; stroke: #e74c3c; stroke-opacity: 0.6"/>
     <circle cx="504.19" cy="347.28" r="2.7386" style="fill: #e74c3c; fill-opacity: 0.6; stroke: #e74c3c; stroke-opacity: 0.6"/>
     <circle cx="531.02" cy="341.42" r="2.7386" style="fill: #e74c3c; fill-opacity: 0.6; stroke: #e74c3c; stroke-opacity: 0.6"/>
     <circle cx="539.23" cy="343.82" r="2.7386" style="fill: #e74c3c; fill-opacity: 0.6; stroke: #e74c3c; stroke-opacity: 0.6"/>
     <circle cx="540.77" cy="349.20" r="2.7386" style="fill: #e74c3c; fill-opacity: 0.6; stroke: #e74c3c; stroke-opacity: 0.6"/>
     <circle cx="541.20" cy="350.40" r="2.7386" style="fill: #e74c3c; fill-opacity: 0.6; stroke: #e74c3c; stroke-opacity: 0.6"/>
     <circle cx="468.34" cy="371.71" r="2.7386" style="fill: #e74c3c; fill-opacity: 0.6; stroke: #e74c3c; stroke-opacity: 0.6"/>
    </g>
   </g>
   <g id="matplotlib.axis_1">
    <g id="xtick_1">
     <g id="line2d_1">
      <g>
       <path transform="translate(74.98 390.19)" d="M 0 0 L 0 3.5" style="stroke: #000000; stroke-width: 0.8"/>
      </g>
     </g>
     <g id="text_1">
      <text style="font-size: 10px; font-family: 'DejaVu Sans', 'Liberation Sans', sans-serif; text-anchor: middle" x="74.97" y="404.79" transform="rotate(-0 74.97 404.79)">−0.6</text>
     </g>
    </g>
    <g id="xtick_2">
     <g id="line2d_2">
      <g>
       <path transform="translate(152.86 390.19)" d="M 0 0 L 0 3.5" style="stroke: #000000; stroke-width: 0.8"/>
      </g>
     </g>
     <g id="text_2">
      <text style="font-size: 10px; font-family: 'DejaVu Sans', 'Liberation Sans', sans-serif; text-anchor: middle" x="152.86" y="404.79" transform="rotate(-0 152.86 404.79)">−0.4</text>
     </g>
    </g>
    <g id="xtick_3">
     <g id="line2d_3">
      <g>
       <path transform="translate(230.75 390.19)" d="M 0 0 L 0 3.5" style="stroke: #000000; stroke-width: 0.8"/>
      </g>
     </g>
     <g id="text_3">
      <text style="font-size: 10px; font-family: 'DejaVu Sans', 'Liberation Sans', sans-serif; text-anchor: middle" x="230.75" y="404.79" transform="rotate(-0 230.75 404.79)">−0.2</text>
     </g>
    </g>
    <g id="xtick_4">
     <g id="line2d_4">
      <g>
       <path transform="translate(308.64 390.19)" d="M 0 0 L 0 3.5" style="stroke: #000000; stroke-width: 0.8"/>
      </g>
     </g>
     <g id="text_4">
      <text style="font-size: 10px; font-family: 'DejaVu Sans', 'Liberation Sans', sans-serif; text-anchor: middle" x="308.64" y="404.79" transform="rotate(-0 308.64 404.79)">0.0</text>
     </g>
    </g>
    <g id="xtick_5">
     <g id="line2d_5">
      <g>
       <path transform="translate(386.53 390.19)" d="M 0 0 L 0 3.5" style="stroke: #000000; stroke-width: 0.8"/>
      </g>
     </g>
     <g id="text_5">
      <text style="font-size: 10px; font-family: 'DejaVu Sans', 'Liberation Sans', sans-serif; text-anchor: middle" x="386.52" y="404.79" transform="rotate(-0 386.52 404.79)">0.2</text>
     </g>
    </g>
    <g id="xtick_6">
     <g id="line2d_6">
      <g>
       <path transform="translate(464.42 390.19)" d="M 0 0 L 0 3.5" style="stroke: #000000; stroke-width: 0.8"/>
      </g>
     </g>
     <g id="text_6">
      <text style="font-size: 10px; font-family: 'DejaVu Sans', 'Liberation Sans', sans-serif; text-anchor: middle" x="464.41" y="404.79" transform="rotate(-0 464.41 404.79)">0.4</text>
     </g>
    </g>
    <g id="xtick_7">
     <g id="line2d_7">
      <g>
       <path transform="translate(542.30 390.19)" d="M 0 0 L 0 3.5" style="stroke: #000000; stroke-width: 0.8"/>
      </g>
     </g>
     <g id="text_7">
      <text style="font-size: 10px; font-family: 'DejaVu Sans', 'Liberation Sans', sans-serif; text-anchor: middle" x="542.30" y="404.79" transform="rotate(-0 542.30 404.79)">0.6</text>
     </g>
    </g>
    <g id="text_8">
     <text style="font-size: 10px; font-family: 'DejaVu Sans', 'Liberation Sans', sans-serif; text-anchor: middle" x="313.92" y="418.46" transform="rotate(-0 313.92 418.46)">Mean lncRNA Correlation</text>
    </g>
   </g>
   <g id="matplotlib.axis_2">
    <g id="ytick_1">
     <g id="line2d_8">
      <g>
       <path transform="translate(62.40 362.86)" d="M 0 0 L -3.5 0" style="stroke: #000000; stroke-width: 0.8"/>
      </g>
     </g>
     <g id="text_9">
      <text style="font-size: 10px; font-family: 'DejaVu Sans', 'Liberation Sans', sans-serif; text-anchor: end" x="55.4" y="366.65" transform="rotate(-0 55.4 366.65)">−0.75</text>
     </g>
    </g>
    <g id="ytick_2">
     <g id="line2d_9">
      <g>
       <path transform="translate(62.40 315.20)" d="M 0 0 L -3.5 0" style="stroke: #000000; stroke-width: 0.8"/>
      </g>
     </g>
     <g id="text_10">
      <text style="font-size: 10px; font-family: 'DejaVu Sans', 'Liberation Sans', sans-serif; text-anchor: end" x="55.4" y="319.00" transform="rotate(-0 55.4 319.00)">−0.50</text>
     </g>
    </g>
    <g id="ytick_3">
     <g id="line2d_10">
      <g>
       <path transform="translate(62.40 267.54)" d="M 0 0 L -3.5 0" style="stroke: #000000; stroke-width: 0.8"/>
      </g>
     </g>
     <g id="text_11">
      <text style="font-size: 10px; font-family: 'DejaVu Sans', 'Liberation Sans', sans-serif; text-anchor: end" x="55.4" y="271.34" transform="rotate(-0 55.4 271.34)">−0.25</text>
     </g>
    </g>
    <g id="ytick_4">
     <g id="line2d_11">
      <g>
       <path transform="translate(62.40 219.89)" d="M 0 0 L -3.5 0" style="stroke: #000000; stroke-width: 0.8"/>
      </g>
     </g>
     <g id="text_12">
      <text style="font-size: 10px; font-family: 'DejaVu Sans', 'Liberation Sans', sans-serif; text-anchor: end" x="55.4" y="223.68" transform="rotate(-0 55.4 223.68)">0.00</text>
     </g>
    </g>
    <g id="ytick_5">
     <g id="line2d_12">
      <g>
       <path transform="translate(62.40 172.23)" d="M 0 0 L -3.5 0" style="stroke: #000000; stroke-width: 0.8"/>
      </g>
     </g>
     <g id="text_13">
      <text style="font-size: 10px; font-family: 'DejaVu Sans', 'Liberation Sans', sans-serif; text-anchor: end" x="55.4" y="176.03" transform="rotate(-0 55.4 176.03)">0.25</text>
     </g>
    </g>
    <g id="ytick_6">
     <g id="line2d_13">
      <g>
       <path transform="translate(62.40 124.57)" d="M 0 0 L -3.5 0" style="stroke: #000000; stroke-width: 0.8"/>
      </g>
     </g>
     <g id="text_14">
      <text style="font-size: 10px; font-family: 'DejaVu Sans', 'Liberation Sans', sans-serif; text-anchor: end" x="55.4" y="128.37" transform="rotate(-0 55.4 128.37)">0.50</text>
     </g>
    </g>
    <g id="ytick_7">
     <g id="line2d_14">
      <g>
       <path transform="translate(62.40 76.92)" d="M 0 0 L -3.5 0" style="stroke: #000000; stroke-width: 0.8"/>
      </g>
     </g>
     <g id="text_15">
      <text style="font-size: 10px; font-family: 'DejaVu Sans', 'Liberation Sans', sans-serif; text-anchor: end" x="55.4" y="80.71" transform="rotate(-0 55.4 80.71)">0.75</text>
     </g>
    </g>
    <g id="ytick_8">
     <g id="line2d_15">
      <g>
       <path transform="translate(62.40 29.26)" d="M 0 0 L -3.5 0" style="stroke: #000000; stroke-width: 0.8"/>
      </g>
     </g>
     <g id="text_16">
      <text style="font-size: 10px; font-family: 'DejaVu Sans', 'Liberation Sans', sans-serif; text-anchor: end" x="55.4" y="33.06" transform="rotate(-0 55.4 33.06)">1.00</text>
     </g>
    </g>
    <g id="text_17">
     <text style="font-size: 10px; font-family: 'DejaVu Sans', 'Liberation Sans', sans-serif; text-anchor: middle" x="18.67" y="208.53" transform="rotate(-90 18.67 208.53)">GBM Correlation</text>
    </g>
   </g>
   <g id="line2d_16">
    <path d="M 62.4 220.08 
L 565.44 220.08 
" clip-path="url(#p90a173c5ce)" style="fill: none; stroke-dasharray: 5.55,2.4; stroke-dashoffset: 0; stroke: #000000; stroke-opacity: 0.5; stroke-width: 1.5"/>
   </g>
   <g id="line2d_17">
    <path d="M 308.83 390.19 
L 308.83 26.88 
" clip-path="url(#p90a173c5ce)" style="fill: none; stroke-dasharray: 5.55,2.4; stroke-dashoffset: 0; stroke: #000000; stroke-opacity: 0.5; stroke-width: 1.5"/>
   </g>
   <g id="patch_3">
    <path d="M 62.4 390.19 
L 62.4 26.88 
" style="fill: none; stroke: #000000; stroke-width: 0.8; stroke-linejoin: miter; stroke-linecap: square"/>
   </g>
   <g id="patch_4">
    <path d="M 565.44 390.19 
L 565.44 26.88 
" style="fill: none; stroke: #000000; stroke-width: 0.8; stroke-linejoin: miter; stroke-linecap: square"/>
   </g>
   <g id="patch_5">
    <path d="M 62.4 390.19 
L 565.44 390.19 
" style="fill: none; stroke: #000000; stroke-width: 0.8; stroke-linejoin: miter; stroke-linecap: square"/>
   </g>
   <g id="patch_6">
    <path d="M 62.4 26.88 
L 565.44 26.88 
" style="fill: none; stroke: #000000; stroke-width: 0.8; stroke-linejoin: miter; stroke-linecap: square"/>
   </g>
   <g id="text_18">
    <text style="font-size: 12px; font-family: 'DejaVu Sans', 'Liberation Sans', sans-serif; text-anchor: middle" x="313.92" y="20.88" transform="rotate(-0 313.92 20.88)">A. pulchra: Concordance of lncRNA and GBM Effects</text>
   </g>
   <g id="legend_1">
    <g id="patch_7">
     <path d="M 69.4 385.19 
L 159.12 385.19 
Q 161.12 385.19 161.12 383.19 
L 161.12 354.83 
Q 161.12 352.83 159.12 352.83 
L 69.4 352.83 
Q 67.4 352.83 67.4 354.83 
L 67.4 383.19 
Q 67.4 385.19 69.4 385.19 
z
" style="fill: #ffffff; opacity: 0.8; stroke: #cccccc; stroke-linejoin: miter"/>
    </g>
    <g id="PathCollection_3">
     <g>
      <circle cx="81.40" cy="361.81" r="2.7386" style="fill: #27ae60; fill-opacity: 0.6; stroke: #27ae60; stroke-opacity: 0.6"/>
     </g>
    </g>
    <g id="text_19">
     <text style="font-size: 10px; font-family: 'DejaVu Sans', 'Liberation Sans', sans-serif; text-anchor: start" x="99.4" y="364.43" transform="rotate(-0 99.4 364.43)">Concordant</text>
    </g>
    <g id="PathCollection_4">
     <g>
      <circle cx="81.40" cy="376.49" r="2.7386" style="fill: #e74c3c; fill-opacity: 0.6; stroke: #e74c3c; stroke-opacity: 0.6"/>
     </g>
    </g>
    <g id="text_20">
     <text style="font-size: 10px; font-family: 'DejaVu Sans', 'Liberation Sans', sans-serif; text-anchor: start" x="99.4" y="379.11" transform="rotate(-0 99.4 379.11)">Discordant</text>
    </g>
   </g>
  </g>
 </g>
 <defs>
  <clipPath id="p90a173c5ce">
   <rect x="62.4" y="26.88" width="503.04" height="363.31"/>
  </clipPath>
 </defs>
</svg>

</body></html>
